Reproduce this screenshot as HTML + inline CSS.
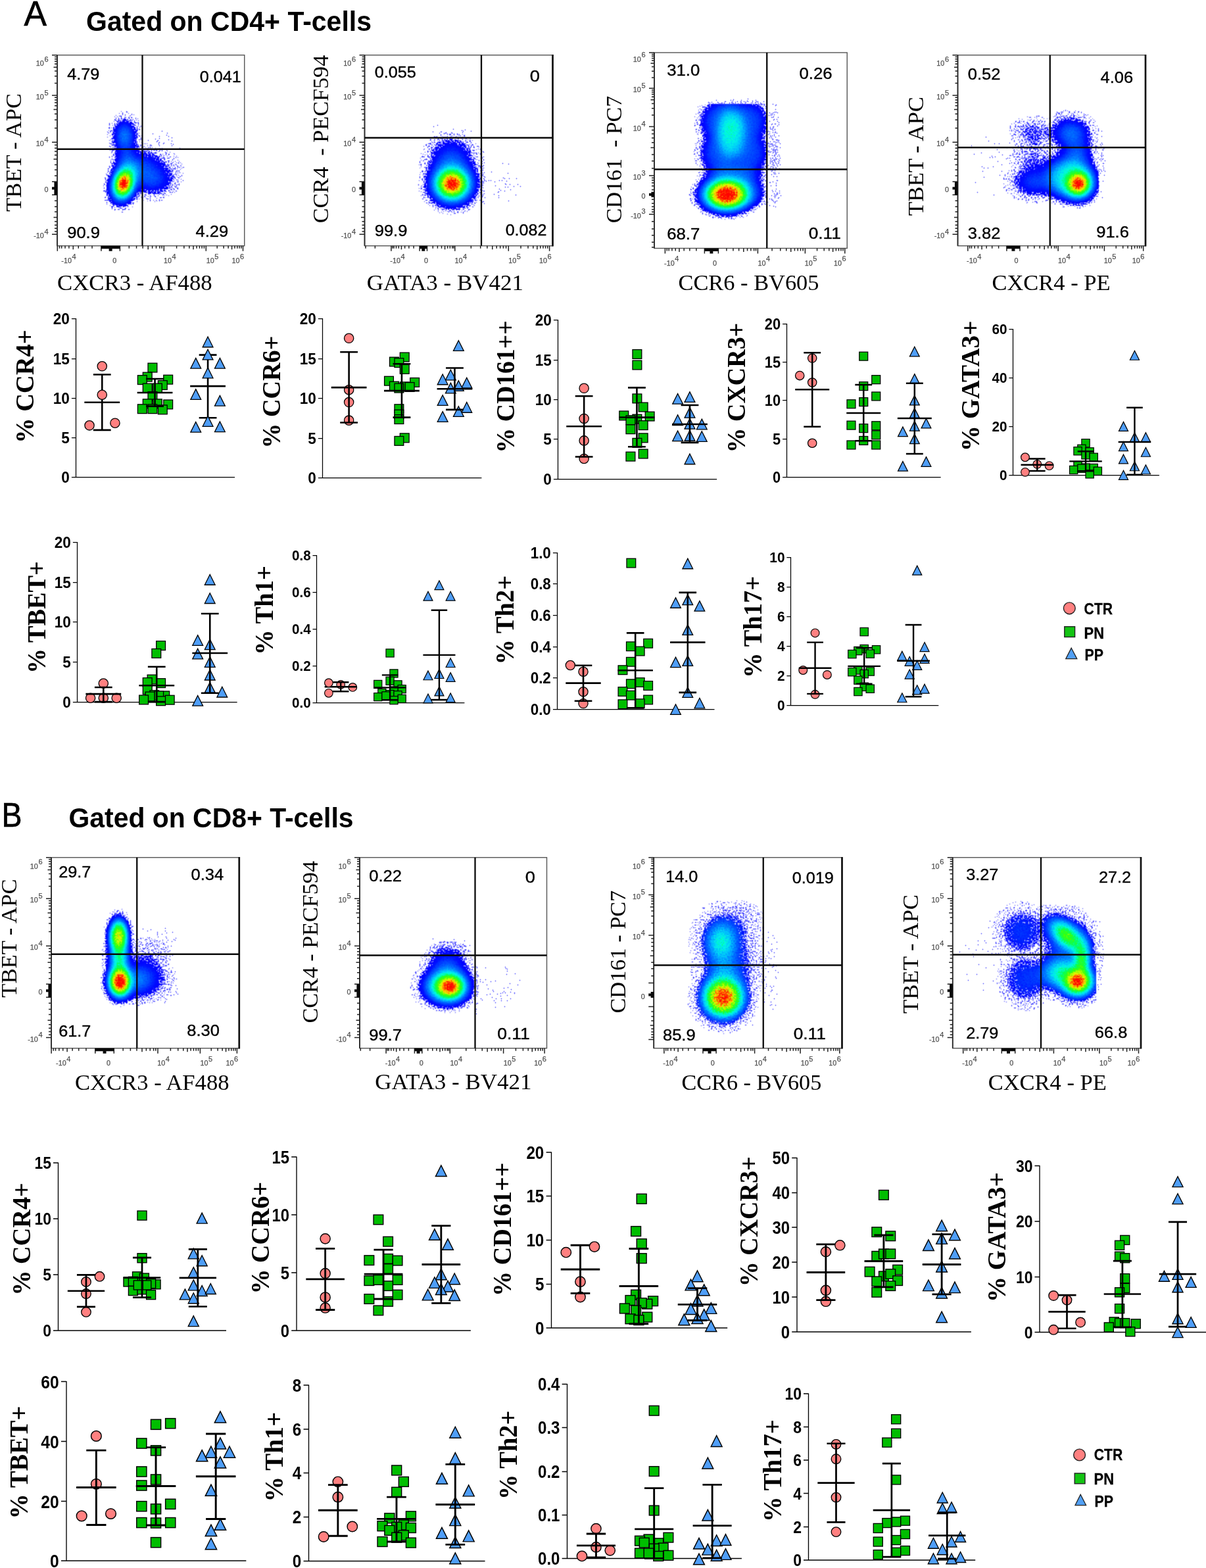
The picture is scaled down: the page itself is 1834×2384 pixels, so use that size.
<!DOCTYPE html>
<html lang="en"><head><meta charset="utf-8"><title>Gated on CD4+ and CD8+ T-cells</title>
<style>html,body{margin:0;padding:0;background:#fff}body{width:1834px;height:2384px;overflow:hidden}svg{display:block}.q{font-family:"Liberation Sans", sans-serif;fill:#000;stroke:#000;stroke-width:.35px}.tk{font-family:"Liberation Sans", sans-serif;fill:#505050;stroke:#505050;stroke-width:.25px}.ax{font-family:"Liberation Serif", serif;fill:#000}.tl{font-family:"Liberation Sans", sans-serif;font-weight:700;fill:#000}.yl{font-family:"Liberation Serif", serif;font-weight:700;fill:#000}.lg{font-family:"Liberation Sans", sans-serif;font-weight:700;fill:#000;stroke:#000;stroke-width:.3px}.ti{font-family:"Liberation Sans", sans-serif;font-weight:700;fill:#000}.pl{font-family:"Liberation Sans", sans-serif;fill:#000;stroke:#000;stroke-width:.7px}</style></head><body>
<svg width="1834" height="2384" viewBox="0 0 1834 2384">
<rect width="1834" height="2384" fill="#fff"/>
<defs>
<radialGradient id="gg2"><stop offset="0" stop-opacity="1.0000"/><stop offset="0.06" stop-opacity="0.9760"/><stop offset="0.12" stop-opacity="0.9075"/><stop offset="0.19" stop-opacity="0.8037"/><stop offset="0.25" stop-opacity="0.6781"/><stop offset="0.31" stop-opacity="0.5450"/><stop offset="0.38" stop-opacity="0.4173"/><stop offset="0.44" stop-opacity="0.3043"/><stop offset="0.5" stop-opacity="0.2115"/><stop offset="0.56" stop-opacity="0.1400"/><stop offset="0.62" stop-opacity="0.0882"/><stop offset="0.69" stop-opacity="0.0530"/><stop offset="0.75" stop-opacity="0.0303"/><stop offset="0.81" stop-opacity="0.0165"/><stop offset="0.88" stop-opacity="0.0086"/><stop offset="0.94" stop-opacity="0.0042"/><stop offset="1" stop-opacity="0.0000"/></radialGradient>
<radialGradient id="gg2_3"><stop offset="0" stop-opacity="1.0000"/><stop offset="0.06" stop-opacity="0.9895"/><stop offset="0.12" stop-opacity="0.9493"/><stop offset="0.19" stop-opacity="0.8761"/><stop offset="0.25" stop-opacity="0.7739"/><stop offset="0.31" stop-opacity="0.6517"/><stop offset="0.38" stop-opacity="0.5214"/><stop offset="0.44" stop-opacity="0.3952"/><stop offset="0.5" stop-opacity="0.2831"/><stop offset="0.56" stop-opacity="0.1911"/><stop offset="0.62" stop-opacity="0.1214"/><stop offset="0.69" stop-opacity="0.0724"/><stop offset="0.75" stop-opacity="0.0405"/><stop offset="0.81" stop-opacity="0.0212"/><stop offset="0.88" stop-opacity="0.0103"/><stop offset="0.94" stop-opacity="0.0047"/><stop offset="1" stop-opacity="0.0000"/></radialGradient>
<radialGradient id="gg2_5"><stop offset="0" stop-opacity="1.0000"/><stop offset="0.06" stop-opacity="0.9939"/><stop offset="0.12" stop-opacity="0.9662"/><stop offset="0.19" stop-opacity="0.9097"/><stop offset="0.25" stop-opacity="0.8235"/><stop offset="0.31" stop-opacity="0.7123"/><stop offset="0.38" stop-opacity="0.5855"/><stop offset="0.44" stop-opacity="0.4553"/><stop offset="0.5" stop-opacity="0.3333"/><stop offset="0.56" stop-opacity="0.2288"/><stop offset="0.62" stop-opacity="0.1467"/><stop offset="0.69" stop-opacity="0.0875"/><stop offset="0.75" stop-opacity="0.0484"/><stop offset="0.81" stop-opacity="0.0248"/><stop offset="0.88" stop-opacity="0.0117"/><stop offset="0.94" stop-opacity="0.0050"/><stop offset="1" stop-opacity="0.0000"/></radialGradient>
<radialGradient id="gg2_6"><stop offset="0" stop-opacity="1.0000"/><stop offset="0.06" stop-opacity="0.9954"/><stop offset="0.12" stop-opacity="0.9725"/><stop offset="0.19" stop-opacity="0.9231"/><stop offset="0.25" stop-opacity="0.8444"/><stop offset="0.31" stop-opacity="0.7393"/><stop offset="0.38" stop-opacity="0.6156"/><stop offset="0.44" stop-opacity="0.4846"/><stop offset="0.5" stop-opacity="0.3588"/><stop offset="0.56" stop-opacity="0.2485"/><stop offset="0.62" stop-opacity="0.1602"/><stop offset="0.69" stop-opacity="0.0957"/><stop offset="0.75" stop-opacity="0.0528"/><stop offset="0.81" stop-opacity="0.0267"/><stop offset="0.88" stop-opacity="0.0124"/><stop offset="0.94" stop-opacity="0.0052"/><stop offset="1" stop-opacity="0.0000"/></radialGradient>
<radialGradient id="gg3"><stop offset="0" stop-opacity="1.0000"/><stop offset="0.06" stop-opacity="0.9985"/><stop offset="0.12" stop-opacity="0.9879"/><stop offset="0.19" stop-opacity="0.9599"/><stop offset="0.25" stop-opacity="0.9075"/><stop offset="0.31" stop-opacity="0.8272"/><stop offset="0.38" stop-opacity="0.7205"/><stop offset="0.44" stop-opacity="0.5943"/><stop offset="0.5" stop-opacity="0.4598"/><stop offset="0.56" stop-opacity="0.3308"/><stop offset="0.62" stop-opacity="0.2193"/><stop offset="0.69" stop-opacity="0.1327"/><stop offset="0.75" stop-opacity="0.0727"/><stop offset="0.81" stop-opacity="0.0357"/><stop offset="0.88" stop-opacity="0.0156"/><stop offset="0.94" stop-opacity="0.0060"/><stop offset="1" stop-opacity="0.0000"/></radialGradient>
<filter id="flFA1" filterUnits="userSpaceOnUse" x="87" y="83.75" width="284.75" height="290" color-interpolation-filters="sRGB"><feTurbulence type="fractalNoise" baseFrequency="0.5" numOctaves="1" seed="3" result="tn"/><feColorMatrix in="tn" type="matrix" values="0 0 0 0 0  0 0 0 0 0  0 0 0 0 0  -2.78 0 0 0 1.89" result="nz"/><feColorMatrix in="tn" type="matrix" values="0 0 0 0 0  0 0 0 0 0  0 0 0 0 0  0 1 0 0 0" result="nz2"/><feComposite in="SourceGraphic" in2="nz" operator="arithmetic" k1="0" k2="14" k3="0.5" k4="0" result="m0"/><feColorMatrix in="m0" type="matrix" values="0 0 0 0 0  0 0 0 0 0  0 0 0 0 0  0 0 0 200 -102" result="mask"/><feComposite in="SourceGraphic" in2="nz2" operator="arithmetic" k1="0.7" k2="0.65" k3="0" k4="0" result="dd"/><feColorMatrix in="dd" type="matrix" values="0 0 0 1 0  0 0 0 1 0  0 0 0 1 0  0 0 0 0 1" result="den"/><feComponentTransfer in="den" result="col"><feFuncR type="table" tableValues="0.000 0.000 0.000 0.000 0.000 0.000 0.000 0.000 0.000 0.000 0.000 0.000 0.000 0.000 0.000 0.000 0.000 0.042 0.084 0.126 0.168 0.210 0.281 0.395 0.510 0.624 0.739 0.825 0.892 0.960 1.000 1.000 1.000 1.000 1.000 1.000 1.000 1.000 1.000 1.000 1.000"/><feFuncG type="table" tableValues="0.000 0.000 0.059 0.206 0.314 0.412 0.510 0.608 0.706 0.784 0.850 0.915 0.980 0.985 0.990 0.995 1.000 1.000 1.000 1.000 1.000 1.000 1.000 1.000 1.000 1.000 1.000 0.982 0.951 0.920 0.853 0.730 0.608 0.485 0.363 0.240 0.118 0.088 0.059 0.029 0.000"/><feFuncB type="table" tableValues="1.000 1.000 1.000 1.000 1.000 1.000 1.000 1.000 1.000 0.984 0.956 0.929 0.902 0.775 0.647 0.520 0.392 0.322 0.252 0.182 0.112 0.042 0.000 0.000 0.000 0.000 0.000 0.000 0.000 0.000 0.000 0.000 0.000 0.000 0.000 0.000 0.000 0.000 0.000 0.000 0.000"/></feComponentTransfer><feComposite in="col" in2="mask" operator="in"/><feConvolveMatrix order="3" kernelMatrix="0.05 0.12 0.05 0.12 0.32 0.12 0.05 0.12 0.05" divisor="1" edgeMode="none" preserveAlpha="false"/></filter>
<filter id="flFA2" filterUnits="userSpaceOnUse" x="554.5" y="83.75" width="286" height="290" color-interpolation-filters="sRGB"><feTurbulence type="fractalNoise" baseFrequency="0.5" numOctaves="1" seed="5" result="tn"/><feColorMatrix in="tn" type="matrix" values="0 0 0 0 0  0 0 0 0 0  0 0 0 0 0  -2.78 0 0 0 1.89" result="nz"/><feColorMatrix in="tn" type="matrix" values="0 0 0 0 0  0 0 0 0 0  0 0 0 0 0  0 1 0 0 0" result="nz2"/><feComposite in="SourceGraphic" in2="nz" operator="arithmetic" k1="0" k2="14" k3="0.5" k4="0" result="m0"/><feColorMatrix in="m0" type="matrix" values="0 0 0 0 0  0 0 0 0 0  0 0 0 0 0  0 0 0 200 -102" result="mask"/><feComposite in="SourceGraphic" in2="nz2" operator="arithmetic" k1="0.7" k2="0.65" k3="0" k4="0" result="dd"/><feColorMatrix in="dd" type="matrix" values="0 0 0 1 0  0 0 0 1 0  0 0 0 1 0  0 0 0 0 1" result="den"/><feComponentTransfer in="den" result="col"><feFuncR type="table" tableValues="0.000 0.000 0.000 0.000 0.000 0.000 0.000 0.000 0.000 0.000 0.000 0.000 0.000 0.000 0.000 0.000 0.000 0.042 0.084 0.126 0.168 0.210 0.281 0.395 0.510 0.624 0.739 0.825 0.892 0.960 1.000 1.000 1.000 1.000 1.000 1.000 1.000 1.000 1.000 1.000 1.000"/><feFuncG type="table" tableValues="0.000 0.000 0.059 0.206 0.314 0.412 0.510 0.608 0.706 0.784 0.850 0.915 0.980 0.985 0.990 0.995 1.000 1.000 1.000 1.000 1.000 1.000 1.000 1.000 1.000 1.000 1.000 0.982 0.951 0.920 0.853 0.730 0.608 0.485 0.363 0.240 0.118 0.088 0.059 0.029 0.000"/><feFuncB type="table" tableValues="1.000 1.000 1.000 1.000 1.000 1.000 1.000 1.000 1.000 0.984 0.956 0.929 0.902 0.775 0.647 0.520 0.392 0.322 0.252 0.182 0.112 0.042 0.000 0.000 0.000 0.000 0.000 0.000 0.000 0.000 0.000 0.000 0.000 0.000 0.000 0.000 0.000 0.000 0.000 0.000 0.000"/></feComponentTransfer><feComposite in="col" in2="mask" operator="in"/><feConvolveMatrix order="3" kernelMatrix="0.05 0.12 0.05 0.12 0.32 0.12 0.05 0.12 0.05" divisor="1" edgeMode="none" preserveAlpha="false"/></filter>
<filter id="flFA3" filterUnits="userSpaceOnUse" x="995" y="80" width="293.25" height="297.5" color-interpolation-filters="sRGB"><feTurbulence type="fractalNoise" baseFrequency="0.5" numOctaves="1" seed="7" result="tn"/><feColorMatrix in="tn" type="matrix" values="0 0 0 0 0  0 0 0 0 0  0 0 0 0 0  -2.78 0 0 0 1.89" result="nz"/><feColorMatrix in="tn" type="matrix" values="0 0 0 0 0  0 0 0 0 0  0 0 0 0 0  0 1 0 0 0" result="nz2"/><feComposite in="SourceGraphic" in2="nz" operator="arithmetic" k1="0" k2="14" k3="0.5" k4="0" result="m0"/><feColorMatrix in="m0" type="matrix" values="0 0 0 0 0  0 0 0 0 0  0 0 0 0 0  0 0 0 200 -102" result="mask"/><feComposite in="SourceGraphic" in2="nz2" operator="arithmetic" k1="0.7" k2="0.65" k3="0" k4="0" result="dd"/><feColorMatrix in="dd" type="matrix" values="0 0 0 1 0  0 0 0 1 0  0 0 0 1 0  0 0 0 0 1" result="den"/><feComponentTransfer in="den" result="col"><feFuncR type="table" tableValues="0.000 0.000 0.000 0.000 0.000 0.000 0.000 0.000 0.000 0.000 0.000 0.000 0.000 0.000 0.000 0.000 0.000 0.042 0.084 0.126 0.168 0.210 0.281 0.395 0.510 0.624 0.739 0.825 0.892 0.960 1.000 1.000 1.000 1.000 1.000 1.000 1.000 1.000 1.000 1.000 1.000"/><feFuncG type="table" tableValues="0.000 0.000 0.059 0.206 0.314 0.412 0.510 0.608 0.706 0.784 0.850 0.915 0.980 0.985 0.990 0.995 1.000 1.000 1.000 1.000 1.000 1.000 1.000 1.000 1.000 1.000 1.000 0.982 0.951 0.920 0.853 0.730 0.608 0.485 0.363 0.240 0.118 0.088 0.059 0.029 0.000"/><feFuncB type="table" tableValues="1.000 1.000 1.000 1.000 1.000 1.000 1.000 1.000 1.000 0.984 0.956 0.929 0.902 0.775 0.647 0.520 0.392 0.322 0.252 0.182 0.112 0.042 0.000 0.000 0.000 0.000 0.000 0.000 0.000 0.000 0.000 0.000 0.000 0.000 0.000 0.000 0.000 0.000 0.000 0.000 0.000"/></feComponentTransfer><feComposite in="col" in2="mask" operator="in"/><feConvolveMatrix order="3" kernelMatrix="0.05 0.12 0.05 0.12 0.32 0.12 0.05 0.12 0.05" divisor="1" edgeMode="none" preserveAlpha="false"/></filter>
<filter id="flFA4" filterUnits="userSpaceOnUse" x="1456.5" y="83.75" width="285.5" height="290" color-interpolation-filters="sRGB"><feTurbulence type="fractalNoise" baseFrequency="0.5" numOctaves="1" seed="9" result="tn"/><feColorMatrix in="tn" type="matrix" values="0 0 0 0 0  0 0 0 0 0  0 0 0 0 0  -2.78 0 0 0 1.89" result="nz"/><feColorMatrix in="tn" type="matrix" values="0 0 0 0 0  0 0 0 0 0  0 0 0 0 0  0 1 0 0 0" result="nz2"/><feComposite in="SourceGraphic" in2="nz" operator="arithmetic" k1="0" k2="14" k3="0.5" k4="0" result="m0"/><feColorMatrix in="m0" type="matrix" values="0 0 0 0 0  0 0 0 0 0  0 0 0 0 0  0 0 0 200 -102" result="mask"/><feComposite in="SourceGraphic" in2="nz2" operator="arithmetic" k1="0.7" k2="0.65" k3="0" k4="0" result="dd"/><feColorMatrix in="dd" type="matrix" values="0 0 0 1 0  0 0 0 1 0  0 0 0 1 0  0 0 0 0 1" result="den"/><feComponentTransfer in="den" result="col"><feFuncR type="table" tableValues="0.000 0.000 0.000 0.000 0.000 0.000 0.000 0.000 0.000 0.000 0.000 0.000 0.000 0.000 0.000 0.000 0.000 0.042 0.084 0.126 0.168 0.210 0.281 0.395 0.510 0.624 0.739 0.825 0.892 0.960 1.000 1.000 1.000 1.000 1.000 1.000 1.000 1.000 1.000 1.000 1.000"/><feFuncG type="table" tableValues="0.000 0.000 0.059 0.206 0.314 0.412 0.510 0.608 0.706 0.784 0.850 0.915 0.980 0.985 0.990 0.995 1.000 1.000 1.000 1.000 1.000 1.000 1.000 1.000 1.000 1.000 1.000 0.982 0.951 0.920 0.853 0.730 0.608 0.485 0.363 0.240 0.118 0.088 0.059 0.029 0.000"/><feFuncB type="table" tableValues="1.000 1.000 1.000 1.000 1.000 1.000 1.000 1.000 1.000 0.984 0.956 0.929 0.902 0.775 0.647 0.520 0.392 0.322 0.252 0.182 0.112 0.042 0.000 0.000 0.000 0.000 0.000 0.000 0.000 0.000 0.000 0.000 0.000 0.000 0.000 0.000 0.000 0.000 0.000 0.000 0.000"/></feComponentTransfer><feComposite in="col" in2="mask" operator="in"/><feConvolveMatrix order="3" kernelMatrix="0.05 0.12 0.05 0.12 0.32 0.12 0.05 0.12 0.05" divisor="1" edgeMode="none" preserveAlpha="false"/></filter>
<filter id="flFB1" filterUnits="userSpaceOnUse" x="78" y="1303.75" width="285.75" height="290" color-interpolation-filters="sRGB"><feTurbulence type="fractalNoise" baseFrequency="0.5" numOctaves="1" seed="11" result="tn"/><feColorMatrix in="tn" type="matrix" values="0 0 0 0 0  0 0 0 0 0  0 0 0 0 0  -2.78 0 0 0 1.89" result="nz"/><feColorMatrix in="tn" type="matrix" values="0 0 0 0 0  0 0 0 0 0  0 0 0 0 0  0 1 0 0 0" result="nz2"/><feComposite in="SourceGraphic" in2="nz" operator="arithmetic" k1="0" k2="14" k3="0.5" k4="0" result="m0"/><feColorMatrix in="m0" type="matrix" values="0 0 0 0 0  0 0 0 0 0  0 0 0 0 0  0 0 0 200 -102" result="mask"/><feComposite in="SourceGraphic" in2="nz2" operator="arithmetic" k1="0.7" k2="0.65" k3="0" k4="0" result="dd"/><feColorMatrix in="dd" type="matrix" values="0 0 0 1 0  0 0 0 1 0  0 0 0 1 0  0 0 0 0 1" result="den"/><feComponentTransfer in="den" result="col"><feFuncR type="table" tableValues="0.000 0.000 0.000 0.000 0.000 0.000 0.000 0.000 0.000 0.000 0.000 0.000 0.000 0.000 0.000 0.000 0.000 0.042 0.084 0.126 0.168 0.210 0.281 0.395 0.510 0.624 0.739 0.825 0.892 0.960 1.000 1.000 1.000 1.000 1.000 1.000 1.000 1.000 1.000 1.000 1.000"/><feFuncG type="table" tableValues="0.000 0.000 0.059 0.206 0.314 0.412 0.510 0.608 0.706 0.784 0.850 0.915 0.980 0.985 0.990 0.995 1.000 1.000 1.000 1.000 1.000 1.000 1.000 1.000 1.000 1.000 1.000 0.982 0.951 0.920 0.853 0.730 0.608 0.485 0.363 0.240 0.118 0.088 0.059 0.029 0.000"/><feFuncB type="table" tableValues="1.000 1.000 1.000 1.000 1.000 1.000 1.000 1.000 1.000 0.984 0.956 0.929 0.902 0.775 0.647 0.520 0.392 0.322 0.252 0.182 0.112 0.042 0.000 0.000 0.000 0.000 0.000 0.000 0.000 0.000 0.000 0.000 0.000 0.000 0.000 0.000 0.000 0.000 0.000 0.000 0.000"/></feComponentTransfer><feComposite in="col" in2="mask" operator="in"/><feConvolveMatrix order="3" kernelMatrix="0.05 0.12 0.05 0.12 0.32 0.12 0.05 0.12 0.05" divisor="1" edgeMode="none" preserveAlpha="false"/></filter>
<filter id="flFB2" filterUnits="userSpaceOnUse" x="547" y="1303.75" width="284.5" height="290" color-interpolation-filters="sRGB"><feTurbulence type="fractalNoise" baseFrequency="0.5" numOctaves="1" seed="13" result="tn"/><feColorMatrix in="tn" type="matrix" values="0 0 0 0 0  0 0 0 0 0  0 0 0 0 0  -2.78 0 0 0 1.89" result="nz"/><feColorMatrix in="tn" type="matrix" values="0 0 0 0 0  0 0 0 0 0  0 0 0 0 0  0 1 0 0 0" result="nz2"/><feComposite in="SourceGraphic" in2="nz" operator="arithmetic" k1="0" k2="14" k3="0.5" k4="0" result="m0"/><feColorMatrix in="m0" type="matrix" values="0 0 0 0 0  0 0 0 0 0  0 0 0 0 0  0 0 0 200 -102" result="mask"/><feComposite in="SourceGraphic" in2="nz2" operator="arithmetic" k1="0.7" k2="0.65" k3="0" k4="0" result="dd"/><feColorMatrix in="dd" type="matrix" values="0 0 0 1 0  0 0 0 1 0  0 0 0 1 0  0 0 0 0 1" result="den"/><feComponentTransfer in="den" result="col"><feFuncR type="table" tableValues="0.000 0.000 0.000 0.000 0.000 0.000 0.000 0.000 0.000 0.000 0.000 0.000 0.000 0.000 0.000 0.000 0.000 0.042 0.084 0.126 0.168 0.210 0.281 0.395 0.510 0.624 0.739 0.825 0.892 0.960 1.000 1.000 1.000 1.000 1.000 1.000 1.000 1.000 1.000 1.000 1.000"/><feFuncG type="table" tableValues="0.000 0.000 0.059 0.206 0.314 0.412 0.510 0.608 0.706 0.784 0.850 0.915 0.980 0.985 0.990 0.995 1.000 1.000 1.000 1.000 1.000 1.000 1.000 1.000 1.000 1.000 1.000 0.982 0.951 0.920 0.853 0.730 0.608 0.485 0.363 0.240 0.118 0.088 0.059 0.029 0.000"/><feFuncB type="table" tableValues="1.000 1.000 1.000 1.000 1.000 1.000 1.000 1.000 1.000 0.984 0.956 0.929 0.902 0.775 0.647 0.520 0.392 0.322 0.252 0.182 0.112 0.042 0.000 0.000 0.000 0.000 0.000 0.000 0.000 0.000 0.000 0.000 0.000 0.000 0.000 0.000 0.000 0.000 0.000 0.000 0.000"/></feComponentTransfer><feComposite in="col" in2="mask" operator="in"/><feConvolveMatrix order="3" kernelMatrix="0.05 0.12 0.05 0.12 0.32 0.12 0.05 0.12 0.05" divisor="1" edgeMode="none" preserveAlpha="false"/></filter>
<filter id="flFB3" filterUnits="userSpaceOnUse" x="994.25" y="1303.75" width="286.25" height="290" color-interpolation-filters="sRGB"><feTurbulence type="fractalNoise" baseFrequency="0.5" numOctaves="1" seed="15" result="tn"/><feColorMatrix in="tn" type="matrix" values="0 0 0 0 0  0 0 0 0 0  0 0 0 0 0  -2.78 0 0 0 1.89" result="nz"/><feColorMatrix in="tn" type="matrix" values="0 0 0 0 0  0 0 0 0 0  0 0 0 0 0  0 1 0 0 0" result="nz2"/><feComposite in="SourceGraphic" in2="nz" operator="arithmetic" k1="0" k2="6" k3="0.5" k4="0" result="m0"/><feColorMatrix in="m0" type="matrix" values="0 0 0 0 0  0 0 0 0 0  0 0 0 0 0  0 0 0 200 -102" result="mask"/><feComposite in="SourceGraphic" in2="nz2" operator="arithmetic" k1="1.1" k2="0.45" k3="0" k4="0" result="dd"/><feColorMatrix in="dd" type="matrix" values="0 0 0 1 0  0 0 0 1 0  0 0 0 1 0  0 0 0 0 1" result="den"/><feComponentTransfer in="den" result="col"><feFuncR type="table" tableValues="0.000 0.000 0.000 0.000 0.000 0.000 0.000 0.000 0.000 0.000 0.000 0.000 0.000 0.000 0.000 0.000 0.000 0.042 0.084 0.126 0.168 0.210 0.281 0.395 0.510 0.624 0.739 0.825 0.892 0.960 1.000 1.000 1.000 1.000 1.000 1.000 1.000 1.000 1.000 1.000 1.000"/><feFuncG type="table" tableValues="0.000 0.000 0.059 0.206 0.314 0.412 0.510 0.608 0.706 0.784 0.850 0.915 0.980 0.985 0.990 0.995 1.000 1.000 1.000 1.000 1.000 1.000 1.000 1.000 1.000 1.000 1.000 0.982 0.951 0.920 0.853 0.730 0.608 0.485 0.363 0.240 0.118 0.088 0.059 0.029 0.000"/><feFuncB type="table" tableValues="1.000 1.000 1.000 1.000 1.000 1.000 1.000 1.000 1.000 0.984 0.956 0.929 0.902 0.775 0.647 0.520 0.392 0.322 0.252 0.182 0.112 0.042 0.000 0.000 0.000 0.000 0.000 0.000 0.000 0.000 0.000 0.000 0.000 0.000 0.000 0.000 0.000 0.000 0.000 0.000 0.000"/></feComponentTransfer><feComposite in="col" in2="mask" operator="in"/><feConvolveMatrix order="3" kernelMatrix="0.05 0.12 0.05 0.12 0.32 0.12 0.05 0.12 0.05" divisor="1" edgeMode="none" preserveAlpha="false"/></filter>
<filter id="flFB4" filterUnits="userSpaceOnUse" x="1448.75" y="1303.75" width="286.25" height="290" color-interpolation-filters="sRGB"><feTurbulence type="fractalNoise" baseFrequency="0.5" numOctaves="1" seed="17" result="tn"/><feColorMatrix in="tn" type="matrix" values="0 0 0 0 0  0 0 0 0 0  0 0 0 0 0  -2.78 0 0 0 1.89" result="nz"/><feColorMatrix in="tn" type="matrix" values="0 0 0 0 0  0 0 0 0 0  0 0 0 0 0  0 1 0 0 0" result="nz2"/><feComposite in="SourceGraphic" in2="nz" operator="arithmetic" k1="0" k2="8" k3="0.5" k4="0" result="m0"/><feColorMatrix in="m0" type="matrix" values="0 0 0 0 0  0 0 0 0 0  0 0 0 0 0  0 0 0 200 -102" result="mask"/><feComposite in="SourceGraphic" in2="nz2" operator="arithmetic" k1="0.9" k2="0.55" k3="0" k4="0" result="dd"/><feColorMatrix in="dd" type="matrix" values="0 0 0 1 0  0 0 0 1 0  0 0 0 1 0  0 0 0 0 1" result="den"/><feComponentTransfer in="den" result="col"><feFuncR type="table" tableValues="0.000 0.000 0.000 0.000 0.000 0.000 0.000 0.000 0.000 0.000 0.000 0.000 0.000 0.000 0.000 0.000 0.000 0.042 0.084 0.126 0.168 0.210 0.281 0.395 0.510 0.624 0.739 0.825 0.892 0.960 1.000 1.000 1.000 1.000 1.000 1.000 1.000 1.000 1.000 1.000 1.000"/><feFuncG type="table" tableValues="0.000 0.000 0.059 0.206 0.314 0.412 0.510 0.608 0.706 0.784 0.850 0.915 0.980 0.985 0.990 0.995 1.000 1.000 1.000 1.000 1.000 1.000 1.000 1.000 1.000 1.000 1.000 0.982 0.951 0.920 0.853 0.730 0.608 0.485 0.363 0.240 0.118 0.088 0.059 0.029 0.000"/><feFuncB type="table" tableValues="1.000 1.000 1.000 1.000 1.000 1.000 1.000 1.000 1.000 0.984 0.956 0.929 0.902 0.775 0.647 0.520 0.392 0.322 0.252 0.182 0.112 0.042 0.000 0.000 0.000 0.000 0.000 0.000 0.000 0.000 0.000 0.000 0.000 0.000 0.000 0.000 0.000 0.000 0.000 0.000 0.000"/></feComponentTransfer><feComposite in="col" in2="mask" operator="in"/><feConvolveMatrix order="3" kernelMatrix="0.05 0.12 0.05 0.12 0.32 0.12 0.05 0.12 0.05" divisor="1" edgeMode="none" preserveAlpha="false"/></filter>
</defs>
<text class="pl" font-size="53" x="36.5" y="39.3" textLength="34.5" lengthAdjust="spacingAndGlyphs">A</text>
<text class="ti" font-size="42" x="131" y="46.6" textLength="434" lengthAdjust="spacingAndGlyphs">Gated on CD4+ T-cells</text>
<text class="pl" font-size="51.5" x="2.5" y="1256.8" textLength="31" lengthAdjust="spacingAndGlyphs">B</text>
<text class="ti" font-size="42" x="104.5" y="1258" textLength="433" lengthAdjust="spacingAndGlyphs">Gated on CD8+ T-cells</text>
<g id="FA1">
<g filter="url(#flFA1)">
<rect x="87" y="83.75" width="284.75" height="290" fill="none"/>
<ellipse cx="188" cy="279" rx="31.73" ry="45.83" fill="url(#gg2)" opacity="1.0" transform="rotate(14 188 279)"/>
<ellipse cx="200" cy="260" rx="35.26" ry="39.66" fill="url(#gg2)" opacity="0.12"/>
<ellipse cx="189.5" cy="206.25" rx="33.49" ry="45.83" fill="url(#gg2)" opacity="0.13"/>
<ellipse cx="231.25" cy="272.5" rx="57.29" ry="44.07" fill="url(#gg2)" opacity="0.08"/>
<ellipse cx="220" cy="252.5" rx="44.07" ry="48.48" fill="url(#gg2)" opacity="0.06"/>
<ellipse cx="192.5" cy="242.5" rx="35.26" ry="52.88" fill="url(#gg2)" opacity="0.08"/>
<ellipse cx="240" cy="260" rx="70.51" ry="61.7" fill="url(#gg2)" opacity="0.015"/>
</g>
<path d="M246.5 244.5h0M231.5 239.5h0M241.5 217.5h0M273.5 225.5h0M244.5 235.5h0M261.5 221.5h0M253.5 205.5h0M239.5 214.5h0M220.5 218.5h0M242.5 216.5h0M246.5 199.5h0M243.5 226.5h0M256.5 207.5h0M223.5 241.5h0M249.5 217.5h0M251.5 231.5h0M260.5 218.5h0M236.5 211.5h0M230.5 221.5h0M233.5 241.5h0M240.5 213.5h0M261.5 209.5h0M242.5 210.5h0M254.5 202.5h0M243.5 228.5h0M267.5 239.5h0M237.5 227.5h0M238.5 251.5h0M248.5 218.5h0M241.5 219.5h0M242.5 207.5h0M242.5 229.5h0M241.5 219.5h0M249.5 239.5h0M238.5 215.5h0M256.5 212.5h0M227.5 227.5h0M232.5 203.5h0M225.5 213.5h0M261.5 214.5h0M223.5 234.5h0M245.5 237.5h0M263.5 219.5h0M242.5 221.5h0M227.5 234.5h0M278.5 274.5h0M262.5 268.5h0M257.5 261.5h0M260.5 260.5h0M260.5 250.5h0M268.5 273.5h0M264.5 287.5h0M257.5 265.5h0M259.5 281.5h0M255.5 286.5h0M261.5 285.5h0M265.5 269.5h0M250.5 263.5h0M262.5 281.5h0M267.5 262.5h0M269.5 286.5h0M263.5 266.5h0M261.5 283.5h0M270.5 259.5h0M268.5 265.5h0M257.5 289.5h0M273.5 262.5h0M265.5 279.5h0M258.5 270.5h0M271.5 247.5h0M268.5 282.5h0M270.5 254.5h0M268.5 260.5h0M270.5 280.5h0M267.5 261.5h0" stroke="#3030ff" stroke-width="1.9" stroke-linecap="round" fill="none" opacity=".6"/>
<rect x="87" y="83.75" width="284.75" height="290" fill="none" stroke="#555" stroke-width="1.4"/>
<path d="M87 83.75V373.75" stroke="#2a2a2a" stroke-width="1.8" fill="none"/>
<path d="M216.5 83.75V373.75M87 226.75H371.75" stroke="#0a0a0a" stroke-width="2.3" fill="none"/>
<path d="M79 356.25H87M79 296.25H87M79 276.25H87M79 216.25H87M79 145H87M79 83.75H87M83 267.37H87M83 258.25H87M83 250.45H87M81.5 242.05H87M83 235.69H87M83 230.17H87M83 225.13H87M83 220.45H87M83 305.13H87M83 314.25H87M83 322.05H87M81.5 330.45H87M83 336.81H87M83 342.33H87M83 347.37H87M83 352.05H87M83 194.8H87M83 182.26H87M83 173.35H87M81.5 166.45H87M83 160.81H87M83 156.04H87M83 151.9H87M83 148.26H87M83 126.56H87M83 115.78H87M83 108.12H87M81.5 102.19H87M83 97.34H87M83 93.24H87M83 89.69H87M83 86.55H87M87.3 373.75V381.75M153.9 373.75V381.75M182.4 373.75V381.75M249.3 373.75V381.75M313.3 373.75V381.75M369.5 373.75V381.75M196.32 373.75V377.75M207.55 373.75V377.75M217.19 373.75V377.75M225.22 373.75V379.25M231.64 373.75V377.75M237.53 373.75V377.75M242.88 373.75V377.75M246.09 373.75V377.75M140.05 373.75V377.75M128.86 373.75V377.75M119.27 373.75V377.75M111.28 373.75V379.25M104.88 373.75V377.75M99.02 373.75V377.75M93.69 373.75V377.75M90.5 373.75V377.75M268.57 373.75V377.75M279.84 373.75V377.75M287.83 373.75V377.75M294.03 373.75V379.25M299.1 373.75V377.75M303.39 373.75V377.75M307.1 373.75V377.75M310.37 373.75V377.75M330.22 373.75V377.75M340.11 373.75V377.75M347.14 373.75V377.75M352.58 373.75V379.25M357.03 373.75V377.75M360.79 373.75V377.75M364.05 373.75V377.75M366.93 373.75V377.75" stroke="#222" stroke-width="1.5" fill="none"/>
<path d="M82.4 276.25H87V296.25H82.4ZM79 284.25h8v4h-8z" fill="#0a0a0a"/>
<path d="M153.9 373.75H182.4V378.35H153.9ZM165.65 373.75h5v8h-5z" fill="#0a0a0a"/>
<text class="tk" font-size="10.8" x="73.5" y="100.2" text-anchor="end">10<tspan dy="-6.5" dx="0.6" font-size="11">6</tspan></text>
<text class="tk" font-size="10.8" x="73.5" y="151" text-anchor="end">10<tspan dy="-6.5" dx="0.6" font-size="11">5</tspan></text>
<text class="tk" font-size="10.8" x="73.5" y="222.25" text-anchor="end">10<tspan dy="-6.5" dx="0.6" font-size="11">4</tspan></text>
<text class="tk" font-size="10.8" x="73.5" y="292.25" text-anchor="end">0</text>
<text class="tk" font-size="10.8" x="73.5" y="362.25" text-anchor="end">-10<tspan dy="-6.5" dx="0.6" font-size="11">4</tspan></text>
<text class="tk" font-size="10.8" x="104.5" y="400.05" text-anchor="middle">-10<tspan dy="-6.5" dx="0.6" font-size="11">4</tspan></text>
<text class="tk" font-size="10.8" x="174.25" y="400.05" text-anchor="middle">0</text>
<text class="tk" font-size="10.8" x="258.25" y="400.05" text-anchor="middle">10<tspan dy="-6.5" dx="0.6" font-size="11">4</tspan></text>
<text class="tk" font-size="10.8" x="323" y="400.05" text-anchor="middle">10<tspan dy="-6.5" dx="0.6" font-size="11">5</tspan></text>
<text class="tk" font-size="10.8" x="361.75" y="400.05" text-anchor="middle">10<tspan dy="-6.5" dx="0.6" font-size="11">6</tspan></text>
<text class="q" font-size="24" x="102.2" y="120.5" textLength="49.2" lengthAdjust="spacingAndGlyphs">4.79</text>
<text class="q" font-size="24" x="303.7" y="125" textLength="63.2" lengthAdjust="spacingAndGlyphs">0.041</text>
<text class="q" font-size="24" x="102.2" y="361.75" textLength="49.7" lengthAdjust="spacingAndGlyphs">90.9</text>
<text class="q" font-size="24" x="297.45" y="360" textLength="49.7" lengthAdjust="spacingAndGlyphs">4.29</text>
<text class="ax" font-size="34" transform="translate(32 321.75) rotate(-90)" textLength="179.75" lengthAdjust="spacingAndGlyphs">TBET - APC</text>
<text class="ax" font-size="34" x="87" y="441.25" textLength="235.75" lengthAdjust="spacingAndGlyphs">CXCR3 - AF488</text>
</g>
<g id="FA2">
<g filter="url(#flFA2)">
<rect x="554.5" y="83.75" width="286" height="290" fill="none"/>
<clipPath id="cpFA2"><rect x="554.5" y="83.75" width="178" height="290"/></clipPath>
<g clip-path="url(#cpFA2)">
<ellipse cx="687.5" cy="279.5" rx="52.88" ry="49.36" fill="url(#gg2)" opacity="1.0"/>
<ellipse cx="686.25" cy="246.25" rx="61.7" ry="57.29" fill="url(#gg2)" opacity="0.1"/>
<ellipse cx="685" cy="222.5" rx="66.11" ry="35.26" fill="url(#gg2)" opacity="0.012"/>
</g>
</g>
<path d="M747.5 261.5h0M781.5 283.5h0M785.5 271.5h0M770.5 275.5h0M753.5 282.5h0M746.5 274.5h0M775.5 280.5h0M765.5 270.5h0M767.5 271.5h0M759.5 274.5h0M767.5 290.5h0M743.5 274.5h0M774.5 271.5h0M759.5 287.5h0M768.5 284.5h0M758.5 300.5h0M787.5 280.5h0M758.5 291.5h0M772.5 263.5h0M758.5 297.5h0M763.5 274.5h0M768.5 279.5h0M764.5 248.5h0M791.5 283.5h0M751.5 295.5h0M769.5 280.5h0M773.5 305.5h0M757.5 292.5h0M739.5 275.5h0M784.5 296.5h0M773.5 249.5h0M776.5 288.5h0M752.5 276.5h0M761.5 289.5h0M772.5 284.5h0M687.5 202.5h0M704.5 199.5h0M675.5 203.5h0M659.5 192.5h0M668.5 202.5h0M703.5 201.5h0M689.5 196.5h0M665.5 190.5h0M698.5 204.5h0M703.5 211.5h0M680.5 207.5h0M716.5 199.5h0M702.5 198.5h0M658.5 200.5h0M671.5 200.5h0M677.5 202.5h0M707.5 197.5h0M670.5 200.5h0M695.5 203.5h0M666.5 210.5h0M735.5 238.5h0M733.5 239.5h0M733.5 299.5h0M734.5 297.5h0M735.5 238.5h0M733.5 248.5h0M737.5 274.5h0M734.5 306.5h0M731.5 282.5h0M733.5 240.5h0M733.5 298.5h0M734.5 230.5h0M733.5 307.5h0M736.5 247.5h0M732.5 269.5h0M736.5 309.5h0M736.5 262.5h0M733.5 239.5h0M734.5 258.5h0M735.5 243.5h0M734.5 252.5h0M732.5 245.5h0M733.5 245.5h0M736.5 274.5h0M732.5 284.5h0M735.5 306.5h0M734.5 267.5h0M733.5 275.5h0M735.5 276.5h0M734.5 285.5h0M735.5 278.5h0M733.5 277.5h0M733.5 253.5h0M736.5 272.5h0M734.5 295.5h0M737.5 300.5h0M734.5 276.5h0M734.5 265.5h0M733.5 266.5h0M735.5 251.5h0M735.5 242.5h0M734.5 281.5h0M733.5 256.5h0M733.5 259.5h0M735.5 271.5h0M736.5 290.5h0M734.5 264.5h0M733.5 289.5h0M735.5 290.5h0M736.5 268.5h0M733.5 262.5h0M737.5 269.5h0M733.5 282.5h0M737.5 269.5h0M734.5 297.5h0M736.5 294.5h0M733.5 279.5h0M735.5 231.5h0M737.5 274.5h0M735.5 255.5h0" stroke="#3030ff" stroke-width="1.9" stroke-linecap="round" fill="none" opacity=".6"/>
<rect x="554.5" y="83.75" width="286" height="290" fill="none" stroke="#555" stroke-width="1.4"/>
<path d="M554.5 83.75V373.75" stroke="#2a2a2a" stroke-width="1.8" fill="none"/>
<path d="M840.5 83.05V374.45" stroke="#111" stroke-width="2.7" fill="none"/>
<path d="M732 83.75V373.75M554.5 209.5H840.5" stroke="#0a0a0a" stroke-width="2.3" fill="none"/>
<path d="M546.5 356.25H554.5M546.5 296.25H554.5M546.5 276.25H554.5M546.5 216.25H554.5M546.5 145H554.5M546.5 83.75H554.5M550.5 267.37H554.5M550.5 258.25H554.5M550.5 250.45H554.5M549 242.05H554.5M550.5 235.69H554.5M550.5 230.17H554.5M550.5 225.13H554.5M550.5 220.45H554.5M550.5 305.13H554.5M550.5 314.25H554.5M550.5 322.05H554.5M549 330.45H554.5M550.5 336.81H554.5M550.5 342.33H554.5M550.5 347.37H554.5M550.5 352.05H554.5M550.5 194.8H554.5M550.5 182.26H554.5M550.5 173.35H554.5M549 166.45H554.5M550.5 160.81H554.5M550.5 156.04H554.5M550.5 151.9H554.5M550.5 148.26H554.5M550.5 126.56H554.5M550.5 115.78H554.5M550.5 108.12H554.5M549 102.19H554.5M550.5 97.34H554.5M550.5 93.24H554.5M550.5 89.69H554.5M550.5 86.55H554.5M594.9 373.75V381.75M638.1 373.75V381.75M649.5 373.75V381.75M691.8 373.75V381.75M773.3 373.75V381.75M835.6 373.75V381.75M658.3 373.75V377.75M665.4 373.75V377.75M671.5 373.75V377.75M676.57 373.75V379.25M680.63 373.75V377.75M684.36 373.75V377.75M687.74 373.75V377.75M689.77 373.75V377.75M629.11 373.75V377.75M621.86 373.75V377.75M615.64 373.75V377.75M610.45 373.75V379.25M606.3 373.75V377.75M602.5 373.75V377.75M599.05 373.75V377.75M596.97 373.75V377.75M716.33 373.75V377.75M730.69 373.75V377.75M740.87 373.75V377.75M748.77 373.75V379.25M755.22 373.75V377.75M760.68 373.75V377.75M765.4 373.75V377.75M769.57 373.75V377.75M792.05 373.75V377.75M803.02 373.75V377.75M810.81 373.75V377.75M816.85 373.75V379.25M821.78 373.75V377.75M825.95 373.75V377.75M829.56 373.75V377.75M832.75 373.75V377.75M570.37 373.75V377.75M556.01 373.75V377.75" stroke="#222" stroke-width="1.5" fill="none"/>
<path d="M549.9 276.25H554.5V296.25H549.9ZM546.5 284.25h8v4h-8z" fill="#0a0a0a"/>
<path d="M638.1 373.75H649.5V378.35H638.1ZM641.3 373.75h5v8h-5z" fill="#0a0a0a"/>
<text class="tk" font-size="10.8" x="541" y="100.2" text-anchor="end">10<tspan dy="-6.5" dx="0.6" font-size="11">6</tspan></text>
<text class="tk" font-size="10.8" x="541" y="151" text-anchor="end">10<tspan dy="-6.5" dx="0.6" font-size="11">5</tspan></text>
<text class="tk" font-size="10.8" x="541" y="222.25" text-anchor="end">10<tspan dy="-6.5" dx="0.6" font-size="11">4</tspan></text>
<text class="tk" font-size="10.8" x="541" y="292.25" text-anchor="end">0</text>
<text class="tk" font-size="10.8" x="541" y="362.25" text-anchor="end">-10<tspan dy="-6.5" dx="0.6" font-size="11">4</tspan></text>
<text class="tk" font-size="10.8" x="604.5" y="400.05" text-anchor="middle">-10<tspan dy="-6.5" dx="0.6" font-size="11">4</tspan></text>
<text class="tk" font-size="10.8" x="648" y="400.05" text-anchor="middle">0</text>
<text class="tk" font-size="10.8" x="700.75" y="400.05" text-anchor="middle">10<tspan dy="-6.5" dx="0.6" font-size="11">4</tspan></text>
<text class="tk" font-size="10.8" x="782.5" y="400.05" text-anchor="middle">10<tspan dy="-6.5" dx="0.6" font-size="11">5</tspan></text>
<text class="tk" font-size="10.8" x="829.25" y="400.05" text-anchor="middle">10<tspan dy="-6.5" dx="0.6" font-size="11">6</tspan></text>
<text class="q" font-size="24" x="569.7" y="118" textLength="63.2" lengthAdjust="spacingAndGlyphs">0.055</text>
<text class="q" font-size="24" x="805.7" y="123.75" textLength="15.2" lengthAdjust="spacingAndGlyphs">0</text>
<text class="q" font-size="24" x="569.7" y="359.25" textLength="49.7" lengthAdjust="spacingAndGlyphs">99.9</text>
<text class="q" font-size="24" x="768.7" y="357.5" textLength="62.7" lengthAdjust="spacingAndGlyphs">0.082</text>
<text class="ax" font-size="34" transform="translate(498.75 339.25) rotate(-90)" textLength="255.5" lengthAdjust="spacingAndGlyphs">CCR4 &#160;- PECF594</text>
<text class="ax" font-size="34" x="557.75" y="441.25" textLength="238.25" lengthAdjust="spacingAndGlyphs">GATA3 - BV421</text>
</g>
<g id="FA3">
<g filter="url(#flFA3)">
<rect x="995" y="80" width="293.25" height="297.5" fill="none"/>
<clipPath id="cpFA3"><rect x="995" y="158" width="171" height="219.5"/></clipPath>
<g clip-path="url(#cpFA3)">
<ellipse cx="1105" cy="295.75" rx="57.99" ry="40.2" fill="url(#gg2_6)" opacity="1.0"/>
<ellipse cx="1115" cy="268.75" rx="63.7" ry="34.75" fill="url(#gg3)" opacity="0.12"/>
<ellipse cx="1112.5" cy="201.25" rx="41.1" ry="75.36" fill="url(#gg2_5)" opacity="0.28"/>
<ellipse cx="1092.5" cy="185" rx="43.43" ry="49.22" fill="url(#gg3)" opacity="0.09"/>
<ellipse cx="1140" cy="185" rx="43.43" ry="49.22" fill="url(#gg3)" opacity="0.09"/>
<ellipse cx="1092.5" cy="232.5" rx="43.43" ry="49.22" fill="url(#gg3)" opacity="0.09"/>
<ellipse cx="1140" cy="232.5" rx="43.43" ry="49.22" fill="url(#gg3)" opacity="0.09"/>
<ellipse cx="1135" cy="292.5" rx="46.33" ry="34.75" fill="url(#gg3)" opacity="0.07"/>
</g>
</g>
<path d="M1174.5 240.5h0M1174.5 211.5h0M1171.5 215.5h0M1182.5 237.5h0M1182.5 231.5h0M1178.5 228.5h0M1166.5 252.5h0M1179.5 239.5h0M1171.5 206.5h0M1177.5 220.5h0M1179.5 200.5h0M1177.5 236.5h0M1172.5 282.5h0M1179.5 264.5h0M1172.5 196.5h0M1174.5 218.5h0M1179.5 231.5h0M1173.5 189.5h0M1173.5 265.5h0M1171.5 231.5h0M1178.5 170.5h0M1176.5 268.5h0M1175.5 193.5h0M1179.5 220.5h0M1168.5 251.5h0M1180.5 255.5h0M1184.5 235.5h0M1176.5 177.5h0M1179.5 201.5h0M1173.5 178.5h0M1170.5 203.5h0M1168.5 230.5h0M1184.5 242.5h0M1178.5 196.5h0M1169.5 256.5h0M1182.5 228.5h0M1177.5 237.5h0M1185.5 244.5h0M1179.5 241.5h0M1181.5 241.5h0M1180.5 159.5h0M1175.5 258.5h0M1179.5 217.5h0M1178.5 245.5h0M1176.5 262.5h0M1172.5 207.5h0M1182.5 223.5h0M1171.5 255.5h0M1184.5 206.5h0M1168.5 217.5h0M1175.5 212.5h0M1184.5 186.5h0M1183.5 178.5h0M1171.5 244.5h0M1182.5 252.5h0M1178.5 227.5h0M1177.5 242.5h0M1175.5 232.5h0M1179.5 222.5h0M1180.5 242.5h0M1173.5 209.5h0M1176.5 254.5h0M1174.5 236.5h0M1169.5 231.5h0M1178.5 230.5h0M1173.5 245.5h0M1177.5 204.5h0M1173.5 219.5h0M1174.5 220.5h0M1181.5 181.5h0M1175.5 255.5h0M1181.5 274.5h0M1166.5 210.5h0M1174.5 244.5h0M1182.5 171.5h0M1180.5 170.5h0M1177.5 264.5h0M1175.5 229.5h0M1180.5 227.5h0M1175.5 276.5h0M1182.5 212.5h0M1181.5 213.5h0M1176.5 247.5h0M1177.5 244.5h0M1179.5 188.5h0M1170.5 171.5h0M1183.5 248.5h0M1184.5 189.5h0M1176.5 182.5h0M1180.5 278.5h0M1171.5 277.5h0M1181.5 216.5h0M1175.5 201.5h0M1178.5 236.5h0M1184.5 186.5h0M1182.5 274.5h0M1184.5 216.5h0M1172.5 258.5h0M1176.5 226.5h0M1184.5 213.5h0M1178.5 201.5h0M1176.5 251.5h0M1176.5 268.5h0M1175.5 258.5h0M1172.5 253.5h0M1169.5 222.5h0M1175.5 221.5h0M1172.5 230.5h0M1186.5 224.5h0M1179.5 257.5h0M1175.5 178.5h0M1173.5 260.5h0M1166.5 201.5h0M1181.5 250.5h0M1176.5 250.5h0M1177.5 181.5h0M1167.5 200.5h0M1181.5 202.5h0M1171.5 195.5h0M1167.5 218.5h0M1169.5 235.5h0M1180.5 212.5h0M1177.5 206.5h0M1180.5 248.5h0M1179.5 233.5h0M1183.5 245.5h0M1181.5 268.5h0M1174.5 206.5h0M1171.5 246.5h0M1186.5 218.5h0M1179.5 254.5h0M1171.5 219.5h0M1177.5 251.5h0M1176.5 215.5h0M1170.5 209.5h0M1181.5 226.5h0M1171.5 193.5h0M1179.5 239.5h0M1185.5 237.5h0M1175.5 240.5h0M1178.5 197.5h0M1168.5 199.5h0M1177.5 228.5h0M1174.5 188.5h0M1169.5 175.5h0M1185.5 257.5h0M1186.5 250.5h0M1171.5 231.5h0M1175.5 240.5h0M1172.5 218.5h0M1178.5 235.5h0M1179.5 229.5h0M1174.5 250.5h0M1176.5 193.5h0M1172.5 222.5h0M1175.5 227.5h0M1176.5 228.5h0M1175.5 178.5h0M1178.5 259.5h0M1178.5 215.5h0M1178.5 188.5h0M1165.5 224.5h0M1171.5 248.5h0M1170.5 277.5h0M1174.5 174.5h0M1171.5 240.5h0M1179.5 228.5h0M1184.5 247.5h0M1176.5 243.5h0M1185.5 256.5h0M1182.5 184.5h0M1175.5 248.5h0M1174.5 259.5h0M1179.5 254.5h0M1183.5 214.5h0M1174.5 253.5h0M1181.5 222.5h0M1169.5 229.5h0M1178.5 262.5h0M1180.5 223.5h0M1181.5 241.5h0M1177.5 224.5h0M1174.5 246.5h0M1170.5 200.5h0M1176.5 171.5h0M1172.5 242.5h0M1179.5 220.5h0M1174.5 172.5h0M1186.5 240.5h0M1182.5 191.5h0M1175.5 158.5h0M1180.5 255.5h0M1165.5 220.5h0M1179.5 160.5h0M1172.5 173.5h0M1176.5 231.5h0M1179.5 247.5h0M1184.5 263.5h0M1168.5 204.5h0M1170.5 184.5h0M1175.5 222.5h0M1179.5 166.5h0M1169.5 221.5h0M1175.5 211.5h0M1175.5 195.5h0M1180.5 234.5h0M1175.5 198.5h0M1170.5 223.5h0M1167.5 229.5h0M1177.5 174.5h0M1174.5 211.5h0M1178.5 243.5h0M1176.5 192.5h0M1175.5 220.5h0M1180.5 232.5h0M1172.5 175.5h0M1174.5 196.5h0M1169.5 218.5h0M1173.5 226.5h0M1179.5 208.5h0M1142.5 156.5h0M1096.5 157.5h0M1123.5 160.5h0M1134.5 159.5h0M1127.5 155.5h0M1127.5 152.5h0M1144.5 153.5h0M1109.5 156.5h0M1144.5 156.5h0M1094.5 157.5h0M1129.5 158.5h0M1095.5 161.5h0M1156.5 156.5h0M1121.5 154.5h0M1150.5 154.5h0M1131.5 154.5h0M1097.5 158.5h0M1148.5 156.5h0M1098.5 158.5h0M1113.5 157.5h0M1153.5 159.5h0M1115.5 158.5h0M1098.5 156.5h0M1149.5 152.5h0M1144.5 154.5h0M1113.5 155.5h0M1111.5 152.5h0M1115.5 151.5h0M1113.5 157.5h0M1126.5 155.5h0M1092.5 156.5h0M1102.5 161.5h0M1134.5 155.5h0M1103.5 154.5h0M1091.5 155.5h0M1122.5 157.5h0M1097.5 156.5h0M1101.5 156.5h0M1118.5 157.5h0M1109.5 157.5h0M1116.5 158.5h0M1114.5 153.5h0M1088.5 158.5h0M1098.5 158.5h0M1133.5 157.5h0M1127.5 155.5h0M1079.5 156.5h0M1126.5 154.5h0M1112.5 158.5h0M1093.5 158.5h0M1161.5 154.5h0M1118.5 155.5h0M1153.5 157.5h0M1137.5 154.5h0M1114.5 156.5h0M1137.5 150.5h0M1133.5 155.5h0M1126.5 157.5h0M1077.5 155.5h0M1152.5 154.5h0M1089.5 152.5h0M1084.5 157.5h0M1157.5 157.5h0M1102.5 154.5h0M1128.5 157.5h0M1089.5 152.5h0M1122.5 157.5h0M1082.5 155.5h0M1101.5 157.5h0M1112.5 155.5h0M1106.5 159.5h0M1149.5 155.5h0M1136.5 153.5h0M1116.5 158.5h0M1152.5 155.5h0M1113.5 156.5h0M1077.5 156.5h0M1098.5 157.5h0M1115.5 157.5h0M1101.5 159.5h0M1175.5 291.5h0M1180.5 281.5h0M1173.5 297.5h0M1182.5 295.5h0M1179.5 290.5h0M1179.5 314.5h0M1173.5 297.5h0M1178.5 307.5h0M1181.5 305.5h0M1178.5 300.5h0M1183.5 301.5h0M1182.5 293.5h0M1177.5 294.5h0M1174.5 289.5h0M1173.5 303.5h0M1177.5 298.5h0M1176.5 306.5h0M1180.5 296.5h0M1181.5 295.5h0M1170.5 312.5h0M1180.5 287.5h0M1184.5 300.5h0M1179.5 306.5h0M1178.5 296.5h0M1167.5 307.5h0M1177.5 294.5h0M1179.5 298.5h0M1181.5 293.5h0M1174.5 304.5h0M1185.5 293.5h0M1176.5 313.5h0M1175.5 304.5h0M1187.5 297.5h0M1185.5 290.5h0M1178.5 296.5h0M1178.5 308.5h0M1173.5 302.5h0M1170.5 302.5h0M1181.5 294.5h0M1180.5 282.5h0" stroke="#3030ff" stroke-width="1.9" stroke-linecap="round" fill="none" opacity=".6"/>
<rect x="995" y="80" width="293.25" height="297.5" fill="none" stroke="#555" stroke-width="1.4"/>
<path d="M995 80V377.5" stroke="#2a2a2a" stroke-width="1.8" fill="none"/>
<path d="M1166.25 80V377.5M995 257.5H1288.25" stroke="#0a0a0a" stroke-width="2.3" fill="none"/>
<path d="M987 267H995M987 192.5H995M987 134.25H995M987 80H995M991 255.97H995M991 244.65H995M991 234.97H995M989.5 224.53H995M991 216.64H995M991 209.78H995M991 203.53H995M991 197.72H995M991 174.97H995M991 164.71H995M991 157.43H995M989.5 151.78H995M991 147.17H995M991 143.27H995M991 139.9H995M991 136.92H995M991 117.92H995M991 108.37H995M991 101.59H995M989.5 96.33H995M991 92.04H995M991 88.4H995M991 85.26H995M991 82.48H995M987 267H995M987 325.75H995M991 288.56H995M991 303.25H995M991 282.81H995M991 309.25H995M991 277.93H995M991 314.35H995M991 273.9H995M991 318.55H995M991 270.45H995M991 322.15H995M991 336.78H995M991 348.1H995M991 357.78H995M991 368.21H995M991 376.11H995M1011.4 377.5V385.5M1071.4 377.5V385.5M1092.4 377.5V385.5M1152.4 377.5V385.5M1224.4 377.5V385.5M1284.8 377.5V385.5M1104.88 377.5V381.5M1114.96 377.5V381.5M1123.6 377.5V381.5M1130.8 377.5V383M1136.56 377.5V381.5M1141.84 377.5V381.5M1146.64 377.5V381.5M1149.52 377.5V381.5M1058.92 377.5V381.5M1048.84 377.5V381.5M1040.2 377.5V381.5M1033 377.5V383M1027.24 377.5V381.5M1021.96 377.5V381.5M1017.16 377.5V381.5M1014.28 377.5V381.5M1174.07 377.5V381.5M1186.75 377.5V381.5M1195.75 377.5V381.5M1202.73 377.5V383M1208.43 377.5V381.5M1213.25 377.5V381.5M1217.42 377.5V381.5M1221.11 377.5V381.5M1242.58 377.5V381.5M1253.22 377.5V381.5M1260.76 377.5V381.5M1266.62 377.5V383M1271.4 377.5V381.5M1275.44 377.5V381.5M1278.95 377.5V381.5M1282.04 377.5V381.5" stroke="#222" stroke-width="1.5" fill="none"/>
<path d="M990.4 291.75H995V299.75H990.4ZM987 293.75h8v4h-8z" fill="#0a0a0a"/>
<path d="M1071.4 377.5H1092.4V382.1H1071.4ZM1079.4 377.5h5v8h-5z" fill="#0a0a0a"/>
<text class="tk" font-size="10.8" x="981.5" y="93.95" text-anchor="end">10<tspan dy="-6.5" dx="0.6" font-size="11">6</tspan></text>
<text class="tk" font-size="10.8" x="981.5" y="140.25" text-anchor="end">10<tspan dy="-6.5" dx="0.6" font-size="11">5</tspan></text>
<text class="tk" font-size="10.8" x="981.5" y="198.5" text-anchor="end">10<tspan dy="-6.5" dx="0.6" font-size="11">4</tspan></text>
<text class="tk" font-size="10.8" x="981.5" y="273" text-anchor="end">10<tspan dy="-6.5" dx="0.6" font-size="11">3</tspan></text>
<text class="tk" font-size="10.8" x="981.5" y="301.75" text-anchor="end">0</text>
<text class="tk" font-size="10.8" x="981.5" y="331.75" text-anchor="end">-10<tspan dy="-6.5" dx="0.6" font-size="11">3</tspan></text>
<text class="tk" font-size="10.8" x="1021.25" y="403.8" text-anchor="middle">-10<tspan dy="-6.5" dx="0.6" font-size="11">4</tspan></text>
<text class="tk" font-size="10.8" x="1087" y="403.8" text-anchor="middle">0</text>
<text class="tk" font-size="10.8" x="1161.75" y="403.8" text-anchor="middle">10<tspan dy="-6.5" dx="0.6" font-size="11">4</tspan></text>
<text class="tk" font-size="10.8" x="1233" y="403.8" text-anchor="middle">10<tspan dy="-6.5" dx="0.6" font-size="11">5</tspan></text>
<text class="tk" font-size="10.8" x="1277.25" y="403.8" text-anchor="middle">10<tspan dy="-6.5" dx="0.6" font-size="11">6</tspan></text>
<text class="q" font-size="24" x="1014.2" y="115" textLength="50.2" lengthAdjust="spacingAndGlyphs">31.0</text>
<text class="q" font-size="24" x="1215.45" y="119.5" textLength="50.2" lengthAdjust="spacingAndGlyphs">0.26</text>
<text class="q" font-size="24" x="1014.2" y="363.75" textLength="50.2" lengthAdjust="spacingAndGlyphs">68.7</text>
<text class="q" font-size="24" x="1229.7" y="363" textLength="49.2" lengthAdjust="spacingAndGlyphs">0.11</text>
<text class="ax" font-size="34" transform="translate(945 339.25) rotate(-90)" textLength="193.5" lengthAdjust="spacingAndGlyphs">CD161 &#160;- PC7</text>
<text class="ax" font-size="34" x="1031.5" y="441.25" textLength="214" lengthAdjust="spacingAndGlyphs">CCR6 - BV605</text>
</g>
<g id="FA4">
<g filter="url(#flFA4)">
<rect x="1456.5" y="83.75" width="285.5" height="290" fill="none"/>
<clipPath id="cpFA4"><rect x="1456.5" y="83.75" width="214.75" height="290"/></clipPath>
<g clip-path="url(#cpFA4)">
<ellipse cx="1640" cy="279.25" rx="38.78" ry="38.78" fill="url(#gg2)" opacity="1.0"/>
<ellipse cx="1626.25" cy="270" rx="57.91" ry="49.22" fill="url(#gg3)" opacity="0.28"/>
<ellipse cx="1628.5" cy="202.5" rx="52.88" ry="44.07" fill="url(#gg2)" opacity="0.12"/>
<ellipse cx="1571.25" cy="200.75" rx="52.12" ry="34.75" fill="url(#gg3)" opacity="0.02"/>
<ellipse cx="1573.25" cy="275.75" rx="61.7" ry="44.07" fill="url(#gg2)" opacity="0.08"/>
<ellipse cx="1572.5" cy="237.5" rx="52.12" ry="40.54" fill="url(#gg3)" opacity="0.018"/>
<ellipse cx="1637.5" cy="235" rx="44.07" ry="52.88" fill="url(#gg2)" opacity="0.1"/>
</g>
</g>
<path d="M1493.5 253.5h0M1559.5 248.5h0M1532.5 240.5h0M1481.5 234.5h0M1552.5 254.5h0M1512.5 218.5h0M1519.5 231.5h0M1523.5 260.5h0M1477.5 221.5h0M1483.5 277.5h0M1543.5 261.5h0M1499.5 208.5h0M1510.5 253.5h0M1520.5 266.5h0M1511.5 296.5h0M1530.5 241.5h0M1496.5 269.5h0M1555.5 251.5h0M1535.5 240.5h0M1509.5 239.5h0M1523.5 250.5h0M1556.5 264.5h0M1535.5 248.5h0M1494.5 260.5h0M1513.5 238.5h0M1505.5 239.5h0M1559.5 259.5h0M1508.5 237.5h0M1538.5 247.5h0M1526.5 285.5h0M1551.5 254.5h0M1503.5 214.5h0M1524.5 235.5h0M1486.5 292.5h0M1492.5 232.5h0M1517.5 245.5h0M1531.5 224.5h0M1502.5 255.5h0M1496.5 255.5h0M1559.5 268.5h0M1566.5 276.5h0M1576.5 255.5h0M1535.5 217.5h0M1516.5 227.5h0M1519.5 218.5h0M1673.5 263.5h0M1678.5 226.5h0M1675.5 232.5h0M1677.5 228.5h0M1680.5 244.5h0M1677.5 248.5h0M1677.5 275.5h0M1675.5 260.5h0M1674.5 241.5h0M1679.5 266.5h0M1675.5 237.5h0M1671.5 260.5h0M1676.5 219.5h0M1677.5 236.5h0M1675.5 199.5h0M1678.5 224.5h0M1677.5 252.5h0M1674.5 244.5h0M1675.5 238.5h0M1676.5 227.5h0M1678.5 248.5h0M1672.5 257.5h0M1674.5 258.5h0M1679.5 224.5h0M1672.5 242.5h0M1677.5 241.5h0M1673.5 219.5h0M1674.5 291.5h0M1675.5 234.5h0M1675.5 217.5h0M1671.5 250.5h0M1680.5 260.5h0M1676.5 300.5h0M1675.5 207.5h0M1676.5 242.5h0M1672.5 224.5h0M1674.5 221.5h0M1678.5 255.5h0M1674.5 236.5h0M1678.5 258.5h0M1604.5 176.5h0M1648.5 176.5h0M1609.5 182.5h0M1650.5 174.5h0M1633.5 177.5h0M1625.5 183.5h0M1626.5 178.5h0M1628.5 176.5h0M1605.5 180.5h0M1604.5 176.5h0M1607.5 180.5h0M1623.5 178.5h0M1612.5 174.5h0M1629.5 175.5h0M1624.5 173.5h0M1622.5 184.5h0M1614.5 172.5h0M1633.5 176.5h0M1614.5 183.5h0M1648.5 173.5h0M1629.5 174.5h0M1617.5 178.5h0M1608.5 171.5h0M1606.5 182.5h0M1614.5 177.5h0M1619.5 180.5h0M1607.5 170.5h0M1613.5 176.5h0M1611.5 177.5h0M1631.5 180.5h0" stroke="#3030ff" stroke-width="1.9" stroke-linecap="round" fill="none" opacity=".6"/>
<rect x="1456.5" y="83.75" width="285.5" height="290" fill="none" stroke="#555" stroke-width="1.4"/>
<path d="M1456.5 83.75V373.75" stroke="#2a2a2a" stroke-width="1.8" fill="none"/>
<path d="M1742 83.05V374.45" stroke="#111" stroke-width="2.7" fill="none"/>
<path d="M1596.75 83.75V373.75M1456.5 224.25H1742" stroke="#0a0a0a" stroke-width="2.3" fill="none"/>
<path d="M1448.5 356.25H1456.5M1448.5 296.25H1456.5M1448.5 276.25H1456.5M1448.5 216.25H1456.5M1448.5 145H1456.5M1448.5 83.75H1456.5M1452.5 267.37H1456.5M1452.5 258.25H1456.5M1452.5 250.45H1456.5M1451 242.05H1456.5M1452.5 235.69H1456.5M1452.5 230.17H1456.5M1452.5 225.13H1456.5M1452.5 220.45H1456.5M1452.5 305.13H1456.5M1452.5 314.25H1456.5M1452.5 322.05H1456.5M1451 330.45H1456.5M1452.5 336.81H1456.5M1452.5 342.33H1456.5M1452.5 347.37H1456.5M1452.5 352.05H1456.5M1452.5 194.8H1456.5M1452.5 182.26H1456.5M1452.5 173.35H1456.5M1451 166.45H1456.5M1452.5 160.81H1456.5M1452.5 156.04H1456.5M1452.5 151.9H1456.5M1452.5 148.26H1456.5M1452.5 126.56H1456.5M1452.5 115.78H1456.5M1452.5 108.12H1456.5M1451 102.19H1456.5M1452.5 97.34H1456.5M1452.5 93.24H1456.5M1452.5 89.69H1456.5M1452.5 86.55H1456.5M1471.8 373.75V381.75M1530.9 373.75V381.75M1551 373.75V381.75M1609.1 373.75V381.75M1679.4 373.75V381.75M1738.7 373.75V381.75M1563.08 373.75V377.75M1572.85 373.75V377.75M1581.21 373.75V377.75M1588.18 373.75V379.25M1593.76 373.75V377.75M1598.87 373.75V377.75M1603.52 373.75V377.75M1606.31 373.75V377.75M1518.61 373.75V377.75M1508.68 373.75V377.75M1500.17 373.75V377.75M1493.08 373.75V379.25M1487.4 373.75V377.75M1482.2 373.75V377.75M1477.47 373.75V377.75M1474.64 373.75V377.75M1630.26 373.75V377.75M1642.64 373.75V377.75M1651.42 373.75V377.75M1658.24 373.75V379.25M1663.8 373.75V377.75M1668.51 373.75V377.75M1672.59 373.75V377.75M1676.18 373.75V377.75M1697.25 373.75V377.75M1707.69 373.75V377.75M1715.1 373.75V377.75M1720.85 373.75V379.25M1725.54 373.75V377.75M1729.51 373.75V377.75M1732.95 373.75V377.75M1735.99 373.75V377.75" stroke="#222" stroke-width="1.5" fill="none"/>
<path d="M1451.9 276.25H1456.5V296.25H1451.9ZM1448.5 284.25h8v4h-8z" fill="#0a0a0a"/>
<path d="M1530.9 373.75H1551V378.35H1530.9ZM1538.45 373.75h5v8h-5z" fill="#0a0a0a"/>
<text class="tk" font-size="10.8" x="1443" y="100.2" text-anchor="end">10<tspan dy="-6.5" dx="0.6" font-size="11">6</tspan></text>
<text class="tk" font-size="10.8" x="1443" y="151" text-anchor="end">10<tspan dy="-6.5" dx="0.6" font-size="11">5</tspan></text>
<text class="tk" font-size="10.8" x="1443" y="222.25" text-anchor="end">10<tspan dy="-6.5" dx="0.6" font-size="11">4</tspan></text>
<text class="tk" font-size="10.8" x="1443" y="292.25" text-anchor="end">0</text>
<text class="tk" font-size="10.8" x="1443" y="362.25" text-anchor="end">-10<tspan dy="-6.5" dx="0.6" font-size="11">4</tspan></text>
<text class="tk" font-size="10.8" x="1481.25" y="400.05" text-anchor="middle">-10<tspan dy="-6.5" dx="0.6" font-size="11">4</tspan></text>
<text class="tk" font-size="10.8" x="1545.5" y="400.05" text-anchor="middle">0</text>
<text class="tk" font-size="10.8" x="1618.25" y="400.05" text-anchor="middle">10<tspan dy="-6.5" dx="0.6" font-size="11">4</tspan></text>
<text class="tk" font-size="10.8" x="1688" y="400.05" text-anchor="middle">10<tspan dy="-6.5" dx="0.6" font-size="11">5</tspan></text>
<text class="tk" font-size="10.8" x="1731" y="400.05" text-anchor="middle">10<tspan dy="-6.5" dx="0.6" font-size="11">6</tspan></text>
<text class="q" font-size="24" x="1471.7" y="121.25" textLength="49.7" lengthAdjust="spacingAndGlyphs">0.52</text>
<text class="q" font-size="24" x="1673.45" y="125.5" textLength="49.7" lengthAdjust="spacingAndGlyphs">4.06</text>
<text class="q" font-size="24" x="1471.7" y="363" textLength="49.7" lengthAdjust="spacingAndGlyphs">3.82</text>
<text class="q" font-size="24" x="1667.2" y="361.25" textLength="49.7" lengthAdjust="spacingAndGlyphs">91.6</text>
<text class="ax" font-size="34" transform="translate(1403.75 328) rotate(-90)" textLength="181" lengthAdjust="spacingAndGlyphs">TBET - APC</text>
<text class="ax" font-size="34" x="1508.5" y="441.25" textLength="180" lengthAdjust="spacingAndGlyphs">CXCR4 - PE</text>
</g>
<g id="FB1">
<g filter="url(#flFB1)">
<rect x="78" y="1303.75" width="285.75" height="290" fill="none"/>
<ellipse cx="182.5" cy="1492.5" rx="30.14" ry="39.73" fill="url(#gg2_5)" opacity="1.0"/>
<ellipse cx="180.5" cy="1423.75" rx="24.66" ry="43.84" fill="url(#gg2_5)" opacity="0.66"/>
<ellipse cx="181.25" cy="1457.5" rx="29.09" ry="61.7" fill="url(#gg2)" opacity="0.35"/>
<ellipse cx="226.25" cy="1487.5" rx="54.65" ry="51.12" fill="url(#gg2)" opacity="0.055"/>
<ellipse cx="207.5" cy="1490" rx="44.07" ry="48.48" fill="url(#gg2)" opacity="0.12"/>
<ellipse cx="225" cy="1455" rx="61.7" ry="52.88" fill="url(#gg2)" opacity="0.015"/>
</g>
<path d="M217.5 1441.5h0M253.5 1426.5h0M215.5 1433.5h0M245.5 1454.5h0M217.5 1412.5h0M248.5 1443.5h0M262.5 1452.5h0M235.5 1430.5h0M224.5 1415.5h0M239.5 1437.5h0M231.5 1433.5h0M241.5 1447.5h0M255.5 1438.5h0M208.5 1447.5h0M214.5 1432.5h0M213.5 1435.5h0M224.5 1438.5h0M251.5 1411.5h0M232.5 1446.5h0M235.5 1441.5h0M239.5 1417.5h0M246.5 1420.5h0M267.5 1426.5h0M248.5 1435.5h0M252.5 1424.5h0M253.5 1432.5h0M258.5 1445.5h0M239.5 1421.5h0M249.5 1443.5h0M264.5 1428.5h0M246.5 1443.5h0M242.5 1438.5h0M240.5 1424.5h0M221.5 1428.5h0M247.5 1461.5h0M253.5 1453.5h0M250.5 1447.5h0M240.5 1448.5h0M266.5 1429.5h0M241.5 1451.5h0M251.5 1415.5h0M240.5 1448.5h0M239.5 1419.5h0M235.5 1441.5h0M255.5 1447.5h0M238.5 1458.5h0M225.5 1448.5h0M255.5 1429.5h0M241.5 1444.5h0M262.5 1417.5h0M237.5 1446.5h0M253.5 1418.5h0M230.5 1438.5h0M239.5 1462.5h0M236.5 1467.5h0M226.5 1426.5h0M249.5 1459.5h0M248.5 1440.5h0M207.5 1422.5h0M227.5 1425.5h0M247.5 1429.5h0M250.5 1436.5h0M232.5 1437.5h0M244.5 1450.5h0M229.5 1430.5h0M261.5 1431.5h0M229.5 1413.5h0M240.5 1438.5h0M260.5 1438.5h0M211.5 1438.5h0M267.5 1507.5h0M256.5 1478.5h0M249.5 1516.5h0M244.5 1512.5h0M264.5 1486.5h0M251.5 1490.5h0M247.5 1490.5h0M268.5 1509.5h0M256.5 1486.5h0M256.5 1481.5h0M241.5 1509.5h0M270.5 1511.5h0M269.5 1503.5h0M251.5 1501.5h0M254.5 1484.5h0M257.5 1502.5h0M253.5 1519.5h0M259.5 1508.5h0M268.5 1488.5h0M251.5 1518.5h0M260.5 1513.5h0M263.5 1490.5h0M250.5 1494.5h0M264.5 1512.5h0M266.5 1477.5h0M256.5 1508.5h0M250.5 1503.5h0M259.5 1513.5h0M250.5 1488.5h0M250.5 1524.5h0M267.5 1498.5h0M259.5 1501.5h0M259.5 1497.5h0M254.5 1482.5h0M251.5 1522.5h0" stroke="#3030ff" stroke-width="1.9" stroke-linecap="round" fill="none" opacity=".6"/>
<rect x="78" y="1303.75" width="285.75" height="290" fill="none" stroke="#555" stroke-width="1.4"/>
<path d="M78 1303.75V1593.75" stroke="#2a2a2a" stroke-width="1.8" fill="none"/>
<path d="M363.75 1303.05V1594.45" stroke="#111" stroke-width="2.7" fill="none"/>
<path d="M208.25 1303.75V1593.75M78 1450.75H363.75" stroke="#0a0a0a" stroke-width="2.3" fill="none"/>
<path d="M70 1577.5H78M70 1516.25H78M70 1496.25H78M70 1438.25H78M70 1366.25H78M70 1303.75H78M74 1487.67H78M74 1478.85H78M74 1471.31H78M72.5 1463.19H78M74 1457.04H78M74 1451.71H78M74 1446.83H78M74 1442.31H78M74 1525.32H78M74 1534.62H78M74 1542.59H78M72.5 1551.16H78M74 1557.65H78M74 1563.29H78M74 1568.43H78M74 1573.21H78M74 1416.58H78M74 1403.9H78M74 1394.9H78M72.5 1387.92H78M74 1382.22H78M74 1377.4H78M74 1373.23H78M74 1369.54H78M74 1347.44H78M74 1336.43H78M74 1328.62H78M72.5 1322.56H78M74 1317.62H78M74 1313.43H78M74 1309.81H78M74 1306.61H78M78.1 1593.75V1601.75M144.8 1593.75V1601.75M173.3 1593.75V1601.75M240 1593.75V1601.75M304.4 1593.75V1601.75M360.4 1593.75V1601.75M187.17 1593.75V1597.75M198.38 1593.75V1597.75M207.98 1593.75V1597.75M215.99 1593.75V1599.25M222.39 1593.75V1597.75M228.26 1593.75V1597.75M233.6 1593.75V1597.75M236.8 1593.75V1597.75M130.93 1593.75V1597.75M119.72 1593.75V1597.75M110.12 1593.75V1597.75M102.11 1593.75V1599.25M95.71 1593.75V1597.75M89.84 1593.75V1597.75M84.5 1593.75V1597.75M81.3 1593.75V1597.75M259.39 1593.75V1597.75M270.73 1593.75V1597.75M278.77 1593.75V1597.75M285.01 1593.75V1599.25M290.11 1593.75V1597.75M294.42 1593.75V1597.75M298.16 1593.75V1597.75M301.45 1593.75V1597.75M321.26 1593.75V1597.75M331.12 1593.75V1597.75M338.12 1593.75V1597.75M343.54 1593.75V1599.25M347.98 1593.75V1597.75M351.73 1593.75V1597.75M354.97 1593.75V1597.75M357.84 1593.75V1597.75" stroke="#222" stroke-width="1.5" fill="none"/>
<path d="M73.4 1496.25H78V1516.25H73.4ZM70 1504.25h8v4h-8z" fill="#0a0a0a"/>
<path d="M144.8 1593.75H173.3V1598.35H144.8ZM156.55 1593.75h5v8h-5z" fill="#0a0a0a"/>
<text class="tk" font-size="10.8" x="64.5" y="1320.95" text-anchor="end">10<tspan dy="-6.5" dx="0.6" font-size="11">6</tspan></text>
<text class="tk" font-size="10.8" x="64.5" y="1372.25" text-anchor="end">10<tspan dy="-6.5" dx="0.6" font-size="11">5</tspan></text>
<text class="tk" font-size="10.8" x="64.5" y="1444.25" text-anchor="end">10<tspan dy="-6.5" dx="0.6" font-size="11">4</tspan></text>
<text class="tk" font-size="10.8" x="64.5" y="1512.25" text-anchor="end">0</text>
<text class="tk" font-size="10.8" x="64.5" y="1583.5" text-anchor="end">-10<tspan dy="-6.5" dx="0.6" font-size="11">4</tspan></text>
<text class="tk" font-size="10.8" x="96.25" y="1620.05" text-anchor="middle">-10<tspan dy="-6.5" dx="0.6" font-size="11">4</tspan></text>
<text class="tk" font-size="10.8" x="165" y="1620.05" text-anchor="middle">0</text>
<text class="tk" font-size="10.8" x="248.5" y="1620.05" text-anchor="middle">10<tspan dy="-6.5" dx="0.6" font-size="11">4</tspan></text>
<text class="tk" font-size="10.8" x="313.75" y="1620.05" text-anchor="middle">10<tspan dy="-6.5" dx="0.6" font-size="11">5</tspan></text>
<text class="tk" font-size="10.8" x="352.75" y="1620.05" text-anchor="middle">10<tspan dy="-6.5" dx="0.6" font-size="11">6</tspan></text>
<text class="q" font-size="24" x="89.2" y="1334.25" textLength="49.2" lengthAdjust="spacingAndGlyphs">29.7</text>
<text class="q" font-size="24" x="290.45" y="1338.25" textLength="49.7" lengthAdjust="spacingAndGlyphs">0.34</text>
<text class="q" font-size="24" x="89.2" y="1575.75" textLength="49.2" lengthAdjust="spacingAndGlyphs">61.7</text>
<text class="q" font-size="24" x="284.2" y="1574.5" textLength="49.7" lengthAdjust="spacingAndGlyphs">8.30</text>
<text class="ax" font-size="34" transform="translate(24.5 1516.75) rotate(-90)" textLength="180.25" lengthAdjust="spacingAndGlyphs">TBET - APC</text>
<text class="ax" font-size="34" x="114" y="1657" textLength="234.5" lengthAdjust="spacingAndGlyphs">CXCR3 - AF488</text>
</g>
<g id="FB2">
<g filter="url(#flFB2)">
<rect x="547" y="1303.75" width="284.5" height="290" fill="none"/>
<clipPath id="cpFB2"><rect x="547" y="1303.75" width="174.75" height="290"/></clipPath>
<g clip-path="url(#cpFB2)">
<ellipse cx="683.75" cy="1500" rx="48.48" ry="41.43" fill="url(#gg2)" opacity="1.0"/>
<ellipse cx="668.75" cy="1500" rx="52.88" ry="44.07" fill="url(#gg2)" opacity="0.2"/>
<ellipse cx="680" cy="1472.5" rx="54.65" ry="52.88" fill="url(#gg2)" opacity="0.1"/>
<ellipse cx="682.5" cy="1447.5" rx="61.7" ry="30.85" fill="url(#gg2)" opacity="0.012"/>
</g>
</g>
<path d="M753.5 1524.5h0M738.5 1471.5h0M761.5 1510.5h0M764.5 1509.5h0M753.5 1491.5h0M740.5 1497.5h0M748.5 1516.5h0M770.5 1481.5h0M772.5 1501.5h0M769.5 1472.5h0M771.5 1476.5h0M790.5 1490.5h0M753.5 1531.5h0M719.5 1502.5h0M734.5 1493.5h0M740.5 1512.5h0M750.5 1507.5h0M771.5 1473.5h0M787.5 1497.5h0M721.5 1490.5h0M776.5 1518.5h0M742.5 1503.5h0M762.5 1518.5h0M754.5 1518.5h0M738.5 1489.5h0M771.5 1513.5h0M756.5 1511.5h0M761.5 1514.5h0M782.5 1510.5h0M775.5 1495.5h0M766.5 1502.5h0M768.5 1470.5h0M746.5 1492.5h0M783.5 1480.5h0M767.5 1530.5h0M731.5 1518.5h0M727.5 1484.5h0M762.5 1521.5h0M730.5 1489.5h0M733.5 1520.5h0M745.5 1511.5h0M771.5 1521.5h0M766.5 1507.5h0M782.5 1509.5h0M730.5 1492.5h0M777.5 1504.5h0M749.5 1505.5h0M768.5 1509.5h0M751.5 1521.5h0M776.5 1508.5h0M660.5 1448.5h0M698.5 1437.5h0M662.5 1436.5h0M675.5 1431.5h0M702.5 1439.5h0M706.5 1430.5h0M681.5 1448.5h0M690.5 1432.5h0M668.5 1433.5h0M683.5 1443.5h0M687.5 1444.5h0M699.5 1439.5h0M707.5 1444.5h0M681.5 1437.5h0M684.5 1432.5h0M660.5 1438.5h0M675.5 1442.5h0M673.5 1439.5h0M688.5 1434.5h0M687.5 1432.5h0M676.5 1444.5h0M691.5 1438.5h0M670.5 1443.5h0M703.5 1440.5h0M704.5 1447.5h0M673.5 1436.5h0M695.5 1437.5h0M689.5 1434.5h0M665.5 1438.5h0M664.5 1448.5h0M688.5 1449.5h0M661.5 1441.5h0M658.5 1427.5h0M689.5 1435.5h0M696.5 1444.5h0M690.5 1428.5h0M680.5 1440.5h0M686.5 1438.5h0M681.5 1433.5h0M714.5 1437.5h0M722.5 1513.5h0M725.5 1470.5h0M723.5 1534.5h0M725.5 1511.5h0M726.5 1499.5h0M723.5 1537.5h0M724.5 1500.5h0M725.5 1503.5h0M724.5 1541.5h0M725.5 1482.5h0M727.5 1498.5h0M722.5 1501.5h0M723.5 1496.5h0M722.5 1517.5h0M725.5 1525.5h0M727.5 1508.5h0M724.5 1508.5h0M722.5 1490.5h0M725.5 1483.5h0M720.5 1494.5h0M724.5 1534.5h0M723.5 1481.5h0M724.5 1498.5h0M724.5 1490.5h0M724.5 1489.5h0M726.5 1508.5h0M725.5 1492.5h0M721.5 1502.5h0M724.5 1526.5h0M726.5 1501.5h0M724.5 1480.5h0M724.5 1506.5h0M723.5 1478.5h0M726.5 1482.5h0M727.5 1483.5h0M725.5 1471.5h0M723.5 1469.5h0M723.5 1491.5h0M726.5 1525.5h0M723.5 1495.5h0M722.5 1477.5h0M721.5 1497.5h0M725.5 1485.5h0M725.5 1477.5h0M722.5 1490.5h0M725.5 1490.5h0M725.5 1494.5h0M723.5 1481.5h0M726.5 1511.5h0M721.5 1519.5h0M722.5 1507.5h0M721.5 1486.5h0M725.5 1507.5h0M725.5 1514.5h0M723.5 1513.5h0M724.5 1498.5h0M724.5 1507.5h0M725.5 1508.5h0M724.5 1512.5h0M726.5 1503.5h0" stroke="#3030ff" stroke-width="1.9" stroke-linecap="round" fill="none" opacity=".6"/>
<rect x="547" y="1303.75" width="284.5" height="290" fill="none" stroke="#555" stroke-width="1.4"/>
<path d="M547 1303.75V1593.75" stroke="#2a2a2a" stroke-width="1.8" fill="none"/>
<path d="M722.5 1303.75V1593.75M547 1452.5H831.5" stroke="#0a0a0a" stroke-width="2.3" fill="none"/>
<path d="M539 1577.5H547M539 1516.25H547M539 1496.25H547M539 1438.25H547M539 1366.25H547M539 1303.75H547M543 1487.67H547M543 1478.85H547M543 1471.31H547M541.5 1463.19H547M543 1457.04H547M543 1451.71H547M543 1446.83H547M543 1442.31H547M543 1525.32H547M543 1534.62H547M543 1542.59H547M541.5 1551.16H547M543 1557.65H547M543 1563.29H547M543 1568.43H547M543 1573.21H547M543 1416.58H547M543 1403.9H547M543 1394.9H547M541.5 1387.92H547M543 1382.22H547M543 1377.4H547M543 1373.23H547M543 1369.54H547M543 1347.44H547M543 1336.43H547M543 1328.62H547M541.5 1322.56H547M543 1317.62H547M543 1313.43H547M543 1309.81H547M543 1306.61H547M587.1 1593.75V1601.75M630.4 1593.75V1601.75M641.8 1593.75V1601.75M684.3 1593.75V1601.75M765.6 1593.75V1601.75M828.1 1593.75V1601.75M650.64 1593.75V1597.75M657.78 1593.75V1597.75M663.9 1593.75V1597.75M669 1593.75V1599.25M673.08 1593.75V1597.75M676.82 1593.75V1597.75M680.22 1593.75V1597.75M682.26 1593.75V1597.75M621.39 1593.75V1597.75M614.12 1593.75V1597.75M607.88 1593.75V1597.75M602.69 1593.75V1599.25M598.53 1593.75V1597.75M594.72 1593.75V1597.75M591.26 1593.75V1597.75M589.18 1593.75V1597.75M708.77 1593.75V1597.75M723.09 1593.75V1597.75M733.25 1593.75V1597.75M741.13 1593.75V1599.25M747.56 1593.75V1597.75M753.01 1593.75V1597.75M757.72 1593.75V1597.75M761.88 1593.75V1597.75M784.41 1593.75V1597.75M795.42 1593.75V1597.75M803.23 1593.75V1597.75M809.29 1593.75V1599.25M814.23 1593.75V1597.75M818.42 1593.75V1597.75M822.04 1593.75V1597.75M825.24 1593.75V1597.75M562.63 1593.75V1597.75M548.31 1593.75V1597.75" stroke="#222" stroke-width="1.5" fill="none"/>
<path d="M542.4 1496.25H547V1516.25H542.4ZM539 1504.25h8v4h-8z" fill="#0a0a0a"/>
<path d="M630.4 1593.75H641.8V1598.35H630.4ZM633.6 1593.75h5v8h-5z" fill="#0a0a0a"/>
<text class="tk" font-size="10.8" x="533.5" y="1320.95" text-anchor="end">10<tspan dy="-6.5" dx="0.6" font-size="11">6</tspan></text>
<text class="tk" font-size="10.8" x="533.5" y="1372.25" text-anchor="end">10<tspan dy="-6.5" dx="0.6" font-size="11">5</tspan></text>
<text class="tk" font-size="10.8" x="533.5" y="1444.25" text-anchor="end">10<tspan dy="-6.5" dx="0.6" font-size="11">4</tspan></text>
<text class="tk" font-size="10.8" x="533.5" y="1512.25" text-anchor="end">0</text>
<text class="tk" font-size="10.8" x="533.5" y="1583.5" text-anchor="end">-10<tspan dy="-6.5" dx="0.6" font-size="11">4</tspan></text>
<text class="tk" font-size="10.8" x="597" y="1620.05" text-anchor="middle">-10<tspan dy="-6.5" dx="0.6" font-size="11">4</tspan></text>
<text class="tk" font-size="10.8" x="640.75" y="1620.05" text-anchor="middle">0</text>
<text class="tk" font-size="10.8" x="693.75" y="1620.05" text-anchor="middle">10<tspan dy="-6.5" dx="0.6" font-size="11">4</tspan></text>
<text class="tk" font-size="10.8" x="775" y="1620.05" text-anchor="middle">10<tspan dy="-6.5" dx="0.6" font-size="11">5</tspan></text>
<text class="tk" font-size="10.8" x="821.5" y="1620.05" text-anchor="middle">10<tspan dy="-6.5" dx="0.6" font-size="11">6</tspan></text>
<text class="q" font-size="24" x="561.2" y="1340" textLength="49.7" lengthAdjust="spacingAndGlyphs">0.22</text>
<text class="q" font-size="24" x="798.7" y="1342" textLength="15.2" lengthAdjust="spacingAndGlyphs">0</text>
<text class="q" font-size="24" x="561.2" y="1581.75" textLength="49.7" lengthAdjust="spacingAndGlyphs">99.7</text>
<text class="q" font-size="24" x="756.2" y="1580" textLength="49.7" lengthAdjust="spacingAndGlyphs">0.11</text>
<text class="ax" font-size="34" transform="translate(483 1555.5) rotate(-90)" textLength="246.5" lengthAdjust="spacingAndGlyphs">CCR4 - PECF594</text>
<text class="ax" font-size="34" x="570.25" y="1656.25" textLength="238.25" lengthAdjust="spacingAndGlyphs">GATA3 - BV421</text>
</g>
<g id="FB3">
<g filter="url(#flFB3)">
<rect x="994.25" y="1303.75" width="286.25" height="290" fill="none"/>
<clipPath id="cpFB3"><rect x="994.25" y="1303.75" width="167.25" height="290"/></clipPath>
<g clip-path="url(#cpFB3)">
<ellipse cx="1100" cy="1516.25" rx="56.83" ry="56.83" fill="url(#gg2_3)" opacity="0.93"/>
<ellipse cx="1096.5" cy="1431.75" rx="54.65" ry="68.75" fill="url(#gg2)" opacity="0.3"/>
<ellipse cx="1125" cy="1460" rx="55.02" ry="86.87" fill="url(#gg3)" opacity="0.04"/>
<ellipse cx="1122.5" cy="1400" rx="55.02" ry="40.54" fill="url(#gg3)" opacity="0.03"/>
<ellipse cx="1100" cy="1475" rx="61.7" ry="52.88" fill="url(#gg2)" opacity="0.12"/>
</g>
</g>
<path d="M1122.5 1387.5h0M1118.5 1381.5h0M1123.5 1387.5h0M1141.5 1377.5h0M1121.5 1396.5h0M1115.5 1379.5h0M1118.5 1394.5h0M1124.5 1380.5h0M1141.5 1382.5h0M1122.5 1398.5h0M1112.5 1389.5h0M1102.5 1383.5h0M1107.5 1379.5h0M1130.5 1388.5h0M1108.5 1372.5h0M1114.5 1398.5h0M1126.5 1384.5h0M1124.5 1389.5h0M1082.5 1391.5h0M1100.5 1384.5h0M1107.5 1387.5h0M1137.5 1384.5h0M1121.5 1396.5h0M1127.5 1379.5h0M1134.5 1382.5h0M1112.5 1388.5h0M1149.5 1377.5h0M1110.5 1388.5h0M1100.5 1387.5h0M1119.5 1379.5h0M1131.5 1385.5h0M1097.5 1387.5h0M1125.5 1387.5h0M1155.5 1394.5h0M1099.5 1382.5h0M1124.5 1374.5h0M1114.5 1380.5h0M1122.5 1388.5h0M1105.5 1400.5h0M1106.5 1393.5h0M1097.5 1376.5h0M1105.5 1382.5h0M1135.5 1371.5h0M1149.5 1388.5h0M1108.5 1395.5h0M1108.5 1386.5h0M1113.5 1379.5h0M1108.5 1399.5h0M1114.5 1378.5h0M1131.5 1389.5h0M1140.5 1375.5h0M1149.5 1399.5h0M1103.5 1383.5h0M1128.5 1384.5h0M1134.5 1392.5h0M1118.5 1374.5h0M1092.5 1398.5h0M1154.5 1388.5h0M1136.5 1399.5h0M1135.5 1375.5h0M1164.5 1457.5h0M1172.5 1444.5h0M1173.5 1527.5h0M1168.5 1477.5h0M1164.5 1472.5h0M1179.5 1528.5h0M1173.5 1446.5h0M1168.5 1447.5h0M1171.5 1499.5h0M1168.5 1417.5h0M1181.5 1511.5h0M1175.5 1534.5h0M1175.5 1422.5h0M1173.5 1501.5h0M1174.5 1470.5h0M1165.5 1499.5h0M1177.5 1454.5h0M1164.5 1461.5h0M1164.5 1485.5h0M1162.5 1490.5h0M1165.5 1496.5h0M1179.5 1485.5h0M1176.5 1466.5h0M1166.5 1453.5h0M1180.5 1487.5h0M1159.5 1494.5h0M1162.5 1523.5h0M1163.5 1509.5h0M1172.5 1457.5h0M1180.5 1468.5h0M1164.5 1460.5h0M1173.5 1505.5h0M1173.5 1435.5h0M1166.5 1431.5h0M1169.5 1449.5h0M1177.5 1448.5h0M1175.5 1468.5h0M1181.5 1442.5h0M1171.5 1528.5h0M1176.5 1469.5h0M1169.5 1456.5h0M1183.5 1478.5h0M1174.5 1443.5h0M1163.5 1502.5h0M1177.5 1426.5h0M1162.5 1489.5h0M1161.5 1519.5h0M1181.5 1432.5h0M1169.5 1513.5h0M1179.5 1475.5h0M1170.5 1465.5h0M1176.5 1499.5h0M1169.5 1456.5h0M1170.5 1467.5h0M1168.5 1425.5h0M1172.5 1507.5h0M1172.5 1523.5h0M1174.5 1505.5h0M1177.5 1518.5h0M1163.5 1463.5h0M1111.5 1546.5h0M1101.5 1549.5h0M1109.5 1555.5h0M1108.5 1553.5h0M1096.5 1562.5h0M1082.5 1556.5h0M1093.5 1554.5h0M1089.5 1564.5h0M1124.5 1554.5h0M1144.5 1558.5h0M1134.5 1549.5h0M1094.5 1552.5h0M1098.5 1558.5h0M1103.5 1556.5h0M1087.5 1562.5h0M1113.5 1551.5h0M1113.5 1562.5h0M1111.5 1555.5h0M1118.5 1561.5h0M1113.5 1557.5h0M1096.5 1557.5h0M1078.5 1551.5h0M1078.5 1558.5h0M1098.5 1550.5h0M1096.5 1560.5h0M1123.5 1550.5h0M1097.5 1557.5h0M1111.5 1553.5h0M1141.5 1552.5h0M1108.5 1546.5h0" stroke="#3030ff" stroke-width="1.9" stroke-linecap="round" fill="none" opacity=".6"/>
<rect x="994.25" y="1303.75" width="286.25" height="290" fill="none" stroke="#555" stroke-width="1.4"/>
<path d="M994.25 1303.75V1593.75" stroke="#2a2a2a" stroke-width="1.8" fill="none"/>
<path d="M1280.5 1303.05V1594.45" stroke="#111" stroke-width="2.7" fill="none"/>
<path d="M1160.75 1303.75V1593.75M994.25 1467.5H1280.5" stroke="#0a0a0a" stroke-width="2.3" fill="none"/>
<path d="M986.25 1580.5H994.25M986.25 1530.5H994.25M986.25 1494.5H994.25M986.25 1422H994.25M986.25 1360.5H994.25M986.25 1303.75H994.25M990.25 1483.77H994.25M990.25 1472.75H994.25M990.25 1463.33H994.25M988.75 1453.17H994.25M990.25 1445.49H994.25M990.25 1438.82H994.25M990.25 1432.73H994.25M990.25 1427.08H994.25M990.25 1537.9H994.25M990.25 1545.5H994.25M990.25 1552H994.25M988.75 1559H994.25M990.25 1564.3H994.25M990.25 1568.9H994.25M990.25 1573.1H994.25M990.25 1577H994.25M990.25 1403.49H994.25M990.25 1392.66H994.25M990.25 1384.97H994.25M988.75 1379.01H994.25M990.25 1374.14H994.25M990.25 1370.03H994.25M990.25 1366.46H994.25M990.25 1363.31H994.25M990.25 1343.42H994.25M990.25 1333.42H994.25M990.25 1326.33H994.25M988.75 1320.83H994.25M990.25 1316.34H994.25M990.25 1312.54H994.25M990.25 1309.25H994.25M990.25 1306.35H994.25M1009.9 1593.75V1601.75M1069 1593.75V1601.75M1089.1 1593.75V1601.75M1147.6 1593.75V1601.75M1217.1 1593.75V1601.75M1276.8 1593.75V1601.75M1101.27 1593.75V1597.75M1111.1 1593.75V1597.75M1119.52 1593.75V1597.75M1126.54 1593.75V1599.25M1132.16 1593.75V1597.75M1137.3 1593.75V1597.75M1141.98 1593.75V1597.75M1144.79 1593.75V1597.75M1056.71 1593.75V1597.75M1046.78 1593.75V1597.75M1038.27 1593.75V1597.75M1031.18 1593.75V1599.25M1025.5 1593.75V1597.75M1020.3 1593.75V1597.75M1015.57 1593.75V1597.75M1012.74 1593.75V1597.75M1168.52 1593.75V1597.75M1180.76 1593.75V1597.75M1189.44 1593.75V1597.75M1196.18 1593.75V1599.25M1201.68 1593.75V1597.75M1206.33 1593.75V1597.75M1210.36 1593.75V1597.75M1213.92 1593.75V1597.75M1235.07 1593.75V1597.75M1245.58 1593.75V1597.75M1253.04 1593.75V1597.75M1258.83 1593.75V1599.25M1263.56 1593.75V1597.75M1267.55 1593.75V1597.75M1271.01 1593.75V1597.75M1274.07 1593.75V1597.75" stroke="#222" stroke-width="1.5" fill="none"/>
<path d="M989.65 1508H994.25V1517H989.65ZM986.25 1510.5h8v4h-8z" fill="#0a0a0a"/>
<path d="M1069 1593.75H1089.1V1598.35H1069ZM1076.55 1593.75h5v8h-5z" fill="#0a0a0a"/>
<text class="tk" font-size="10.8" x="980.75" y="1320.95" text-anchor="end">10<tspan dy="-6.5" dx="0.6" font-size="11">6</tspan></text>
<text class="tk" font-size="10.8" x="980.75" y="1366.5" text-anchor="end">10<tspan dy="-6.5" dx="0.6" font-size="11">5</tspan></text>
<text class="tk" font-size="10.8" x="980.75" y="1428" text-anchor="end">10<tspan dy="-6.5" dx="0.6" font-size="11">4</tspan></text>
<text class="tk" font-size="10.8" x="980.75" y="1518.5" text-anchor="end">0</text>
<text class="tk" font-size="10.8" x="1019.5" y="1620.05" text-anchor="middle">-10<tspan dy="-6.5" dx="0.6" font-size="11">4</tspan></text>
<text class="tk" font-size="10.8" x="1083.75" y="1620.05" text-anchor="middle">0</text>
<text class="tk" font-size="10.8" x="1156.5" y="1620.05" text-anchor="middle">10<tspan dy="-6.5" dx="0.6" font-size="11">4</tspan></text>
<text class="tk" font-size="10.8" x="1227" y="1620.05" text-anchor="middle">10<tspan dy="-6.5" dx="0.6" font-size="11">5</tspan></text>
<text class="tk" font-size="10.8" x="1269.5" y="1620.05" text-anchor="middle">10<tspan dy="-6.5" dx="0.6" font-size="11">6</tspan></text>
<text class="q" font-size="24" x="1012.2" y="1340.5" textLength="49.2" lengthAdjust="spacingAndGlyphs">14.0</text>
<text class="q" font-size="24" x="1204.7" y="1342.5" textLength="63.2" lengthAdjust="spacingAndGlyphs">0.019</text>
<text class="q" font-size="24" x="1007.95" y="1581.75" textLength="49.7" lengthAdjust="spacingAndGlyphs">85.9</text>
<text class="q" font-size="24" x="1206.7" y="1580" textLength="49.2" lengthAdjust="spacingAndGlyphs">0.11</text>
<text class="ax" font-size="34" transform="translate(951.25 1540.5) rotate(-90)" textLength="186.75" lengthAdjust="spacingAndGlyphs">CD161 - PC7</text>
<text class="ax" font-size="34" x="1036.5" y="1657" textLength="212.75" lengthAdjust="spacingAndGlyphs">CCR6 - BV605</text>
</g>
<g id="FB4">
<g filter="url(#flFB4)">
<rect x="1448.75" y="1303.75" width="286.25" height="290" fill="none"/>
<clipPath id="cpFB4"><rect x="1448.75" y="1303.75" width="218.25" height="290"/></clipPath>
<g clip-path="url(#cpFB4)">
<ellipse cx="1638.5" cy="1492" rx="45.83" ry="42.31" fill="url(#gg2)" opacity="1.0"/>
<ellipse cx="1612.5" cy="1480" rx="61.7" ry="48.48" fill="url(#gg2)" opacity="0.3"/>
<ellipse cx="1622.5" cy="1423" rx="66.11" ry="35.26" fill="url(#gg2)" opacity="0.5" transform="rotate(41 1622.5 1423)"/>
<ellipse cx="1645" cy="1460" rx="26.44" ry="61.7" fill="url(#gg2)" opacity="0.42"/>
<ellipse cx="1625" cy="1440" rx="63.7" ry="75.28" fill="url(#gg3)" opacity="0.08"/>
<ellipse cx="1553.75" cy="1416.25" rx="55.02" ry="55.02" fill="url(#gg3)" opacity="0.07"/>
<ellipse cx="1558.75" cy="1488.75" rx="52.12" ry="57.91" fill="url(#gg3)" opacity="0.07"/>
</g>
</g>
<path d="M1459.5 1447.5h0M1518.5 1449.5h0M1503.5 1410.5h0M1494.5 1443.5h0M1521.5 1459.5h0M1499.5 1433.5h0M1480.5 1454.5h0M1538.5 1475.5h0M1509.5 1443.5h0M1492.5 1419.5h0M1514.5 1449.5h0M1487.5 1436.5h0M1525.5 1495.5h0M1521.5 1458.5h0M1535.5 1470.5h0M1472.5 1490.5h0M1511.5 1439.5h0M1479.5 1450.5h0M1495.5 1505.5h0M1510.5 1491.5h0M1473.5 1442.5h0M1522.5 1485.5h0M1517.5 1442.5h0M1484.5 1444.5h0M1537.5 1457.5h0M1485.5 1481.5h0M1495.5 1495.5h0M1497.5 1430.5h0M1503.5 1451.5h0M1468.5 1437.5h0M1470.5 1481.5h0M1529.5 1445.5h0M1488.5 1466.5h0M1499.5 1471.5h0M1511.5 1467.5h0M1515.5 1425.5h0M1502.5 1446.5h0M1508.5 1449.5h0M1505.5 1400.5h0M1487.5 1430.5h0M1673.5 1460.5h0M1670.5 1438.5h0M1670.5 1450.5h0M1673.5 1476.5h0M1671.5 1420.5h0M1669.5 1476.5h0M1668.5 1442.5h0M1672.5 1433.5h0M1671.5 1472.5h0M1672.5 1460.5h0M1672.5 1416.5h0M1670.5 1489.5h0M1676.5 1438.5h0M1670.5 1436.5h0M1677.5 1454.5h0M1671.5 1481.5h0M1669.5 1435.5h0M1670.5 1452.5h0M1668.5 1433.5h0M1672.5 1422.5h0M1669.5 1466.5h0M1669.5 1447.5h0M1674.5 1456.5h0M1678.5 1450.5h0M1667.5 1465.5h0M1673.5 1477.5h0M1667.5 1449.5h0M1675.5 1460.5h0M1676.5 1432.5h0M1673.5 1454.5h0M1677.5 1423.5h0M1676.5 1461.5h0M1672.5 1433.5h0M1668.5 1407.5h0M1673.5 1424.5h0M1676.5 1468.5h0M1673.5 1489.5h0M1672.5 1482.5h0M1666.5 1439.5h0M1675.5 1450.5h0M1677.5 1457.5h0M1669.5 1497.5h0M1672.5 1448.5h0M1672.5 1430.5h0M1671.5 1479.5h0M1670.5 1449.5h0M1669.5 1455.5h0M1674.5 1471.5h0M1671.5 1431.5h0M1673.5 1482.5h0M1672.5 1438.5h0M1671.5 1485.5h0M1669.5 1449.5h0M1667.5 1447.5h0M1674.5 1486.5h0M1674.5 1486.5h0M1670.5 1504.5h0M1668.5 1477.5h0M1674.5 1496.5h0M1673.5 1423.5h0M1670.5 1500.5h0M1672.5 1401.5h0M1671.5 1476.5h0M1672.5 1474.5h0M1674.5 1455.5h0M1669.5 1456.5h0M1674.5 1436.5h0M1675.5 1467.5h0M1672.5 1428.5h0M1677.5 1443.5h0M1596.5 1391.5h0M1629.5 1382.5h0M1615.5 1386.5h0M1591.5 1379.5h0M1613.5 1382.5h0M1620.5 1381.5h0M1609.5 1386.5h0M1614.5 1388.5h0M1633.5 1386.5h0M1636.5 1387.5h0M1590.5 1385.5h0M1609.5 1388.5h0M1610.5 1382.5h0M1614.5 1388.5h0M1613.5 1390.5h0M1594.5 1387.5h0M1619.5 1390.5h0M1589.5 1385.5h0M1603.5 1383.5h0M1633.5 1380.5h0M1612.5 1388.5h0M1573.5 1385.5h0M1605.5 1382.5h0M1623.5 1381.5h0M1591.5 1385.5h0M1631.5 1384.5h0M1621.5 1384.5h0M1630.5 1385.5h0M1614.5 1387.5h0M1619.5 1385.5h0M1602.5 1385.5h0M1602.5 1389.5h0M1608.5 1388.5h0M1599.5 1387.5h0M1580.5 1382.5h0M1632.5 1385.5h0M1605.5 1382.5h0M1640.5 1383.5h0M1624.5 1387.5h0M1593.5 1385.5h0" stroke="#3030ff" stroke-width="1.9" stroke-linecap="round" fill="none" opacity=".6"/>
<rect x="1448.75" y="1303.75" width="286.25" height="290" fill="none" stroke="#555" stroke-width="1.4"/>
<path d="M1448.75 1303.75V1593.75" stroke="#2a2a2a" stroke-width="1.8" fill="none"/>
<path d="M1735 1303.05V1594.45" stroke="#111" stroke-width="2.7" fill="none"/>
<path d="M1583 1303.75V1593.75M1448.75 1451.5H1735" stroke="#0a0a0a" stroke-width="2.3" fill="none"/>
<path d="M1440.75 1577.5H1448.75M1440.75 1516.25H1448.75M1440.75 1496.25H1448.75M1440.75 1438.25H1448.75M1440.75 1366.25H1448.75M1440.75 1303.75H1448.75M1444.75 1487.67H1448.75M1444.75 1478.85H1448.75M1444.75 1471.31H1448.75M1443.25 1463.19H1448.75M1444.75 1457.04H1448.75M1444.75 1451.71H1448.75M1444.75 1446.83H1448.75M1444.75 1442.31H1448.75M1444.75 1525.32H1448.75M1444.75 1534.62H1448.75M1444.75 1542.59H1448.75M1443.25 1551.16H1448.75M1444.75 1557.65H1448.75M1444.75 1563.29H1448.75M1444.75 1568.43H1448.75M1444.75 1573.21H1448.75M1444.75 1416.58H1448.75M1444.75 1403.9H1448.75M1444.75 1394.9H1448.75M1443.25 1387.92H1448.75M1444.75 1382.22H1448.75M1444.75 1377.4H1448.75M1444.75 1373.23H1448.75M1444.75 1369.54H1448.75M1444.75 1347.44H1448.75M1444.75 1336.43H1448.75M1444.75 1328.62H1448.75M1443.25 1322.56H1448.75M1444.75 1317.62H1448.75M1444.75 1313.43H1448.75M1444.75 1309.81H1448.75M1444.75 1306.61H1448.75M1464.7 1593.75V1601.75M1523.3 1593.75V1601.75M1543.7 1593.75V1601.75M1602.4 1593.75V1601.75M1671.9 1593.75V1601.75M1731.5 1593.75V1601.75M1555.91 1593.75V1597.75M1565.77 1593.75V1597.75M1574.22 1593.75V1597.75M1581.27 1593.75V1599.25M1586.9 1593.75V1597.75M1592.07 1593.75V1597.75M1596.76 1593.75V1597.75M1599.58 1593.75V1597.75M1511.11 1593.75V1597.75M1501.27 1593.75V1597.75M1492.83 1593.75V1597.75M1485.8 1593.75V1599.25M1480.17 1593.75V1597.75M1475.01 1593.75V1597.75M1470.33 1593.75V1597.75M1467.51 1593.75V1597.75M1623.32 1593.75V1597.75M1635.56 1593.75V1597.75M1644.24 1593.75V1597.75M1650.98 1593.75V1599.25M1656.48 1593.75V1597.75M1661.13 1593.75V1597.75M1665.16 1593.75V1597.75M1668.72 1593.75V1597.75M1689.84 1593.75V1597.75M1700.34 1593.75V1597.75M1707.78 1593.75V1597.75M1713.56 1593.75V1599.25M1718.28 1593.75V1597.75M1722.27 1593.75V1597.75M1725.72 1593.75V1597.75M1728.77 1593.75V1597.75" stroke="#222" stroke-width="1.5" fill="none"/>
<path d="M1444.15 1496.25H1448.75V1516.25H1444.15ZM1440.75 1504.25h8v4h-8z" fill="#0a0a0a"/>
<path d="M1523.3 1593.75H1543.7V1598.35H1523.3ZM1531 1593.75h5v8h-5z" fill="#0a0a0a"/>
<text class="tk" font-size="10.8" x="1435.25" y="1320.95" text-anchor="end">10<tspan dy="-6.5" dx="0.6" font-size="11">6</tspan></text>
<text class="tk" font-size="10.8" x="1435.25" y="1372.25" text-anchor="end">10<tspan dy="-6.5" dx="0.6" font-size="11">5</tspan></text>
<text class="tk" font-size="10.8" x="1435.25" y="1444.25" text-anchor="end">10<tspan dy="-6.5" dx="0.6" font-size="11">4</tspan></text>
<text class="tk" font-size="10.8" x="1435.25" y="1512.25" text-anchor="end">0</text>
<text class="tk" font-size="10.8" x="1435.25" y="1583.5" text-anchor="end">-10<tspan dy="-6.5" dx="0.6" font-size="11">4</tspan></text>
<text class="tk" font-size="10.8" x="1474.5" y="1620.05" text-anchor="middle">-10<tspan dy="-6.5" dx="0.6" font-size="11">4</tspan></text>
<text class="tk" font-size="10.8" x="1538.25" y="1620.05" text-anchor="middle">0</text>
<text class="tk" font-size="10.8" x="1611" y="1620.05" text-anchor="middle">10<tspan dy="-6.5" dx="0.6" font-size="11">4</tspan></text>
<text class="tk" font-size="10.8" x="1681.25" y="1620.05" text-anchor="middle">10<tspan dy="-6.5" dx="0.6" font-size="11">5</tspan></text>
<text class="tk" font-size="10.8" x="1724" y="1620.05" text-anchor="middle">10<tspan dy="-6.5" dx="0.6" font-size="11">6</tspan></text>
<text class="q" font-size="24" x="1469.2" y="1338" textLength="49.2" lengthAdjust="spacingAndGlyphs">3.27</text>
<text class="q" font-size="24" x="1670.95" y="1341.75" textLength="49.2" lengthAdjust="spacingAndGlyphs">27.2</text>
<text class="q" font-size="24" x="1469.2" y="1578.75" textLength="49.2" lengthAdjust="spacingAndGlyphs">2.79</text>
<text class="q" font-size="24" x="1664.7" y="1577.5" textLength="49.7" lengthAdjust="spacingAndGlyphs">66.8</text>
<text class="ax" font-size="34" transform="translate(1395.75 1541) rotate(-90)" textLength="181" lengthAdjust="spacingAndGlyphs">TBET - APC</text>
<text class="ax" font-size="34" x="1502.75" y="1657" textLength="180" lengthAdjust="spacingAndGlyphs">CXCR4 - PE</text>
</g>
<g id="A1">
<path d="M115.5 483.9V726.1M108.9 725.5H357.02M108.9 484.5H115.5M108.9 545.5H115.5M108.9 605.5H115.5M108.9 665.5H115.5" stroke="#000" stroke-width="1.25" fill="none"/>
<text class="tl" font-size="24.6" x="105.8" y="492.9" text-anchor="end" textLength="25.14" lengthAdjust="spacingAndGlyphs">20</text>
<text class="tl" font-size="24.6" x="105.8" y="553.9" text-anchor="end" textLength="25.14" lengthAdjust="spacingAndGlyphs">15</text>
<text class="tl" font-size="24.6" x="105.8" y="613.9" text-anchor="end" textLength="25.14" lengthAdjust="spacingAndGlyphs">10</text>
<text class="tl" font-size="24.6" x="105.8" y="673.9" text-anchor="end" textLength="12.57" lengthAdjust="spacingAndGlyphs">5</text>
<text class="tl" font-size="24.6" x="105.8" y="733.9" text-anchor="end" textLength="12.57" lengthAdjust="spacingAndGlyphs">0</text>
<text class="yl" font-size="39.52" transform="translate(51.28 673.79) rotate(-90)" textLength="172.43" lengthAdjust="spacingAndGlyphs">% CCR4+</text>
<path d="M155.26 569.48V653.85M141.86 569.48H168.66M141.86 653.85H168.66M128.36 611.77H182.16" stroke="#000" stroke-width="2.6" fill="none"/>
<g fill="#FF8080" stroke="#000" stroke-width="1.3"><circle cx="155.26" cy="556.81" r="7.15"/><circle cx="155.26" cy="600.24" r="7.15"/><circle cx="136.04" cy="646.83" r="7.15"/><circle cx="174.94" cy="643.21" r="7.15"/></g>
<g fill="#00BE00" stroke="#000" stroke-width="1.3"><rect x="225.04" y="552.17" width="13.8" height="13.8"/><rect x="217.35" y="566.2" width="13.8" height="13.8"/><rect x="248.79" y="570.27" width="13.8" height="13.8"/><rect x="209.43" y="570.72" width="13.8" height="13.8"/><rect x="240.42" y="578.64" width="13.8" height="13.8"/><rect x="217.35" y="583.16" width="13.8" height="13.8"/><rect x="232.5" y="583.16" width="13.8" height="13.8"/><rect x="225.04" y="595.6" width="13.8" height="13.8"/><rect x="217.35" y="606.91" width="13.8" height="13.8"/><rect x="232.5" y="606.91" width="13.8" height="13.8"/><rect x="248.79" y="608.04" width="13.8" height="13.8"/><rect x="209.43" y="614.83" width="13.8" height="13.8"/><rect x="225.04" y="614.83" width="13.8" height="13.8"/><rect x="240.42" y="615.96" width="13.8" height="13.8"/></g>
<path d="M235.56 576.04V617.65M222.16 576.04H248.96M222.16 617.65H248.96M208.66 597.07H262.46" stroke="#000" stroke-width="2.6" fill="none"/>
<path d="M316.08 539.62V635.3M302.68 539.62H329.48M302.68 635.3H329.48M289.18 587.12H342.98" stroke="#000" stroke-width="2.6" fill="none"/>
<g fill="#4F9EF8" stroke="#000" stroke-width="1.3"><path d="M316.08 512.04L323.98 527.74H308.18Z"/><path d="M316.08 531.27L323.98 546.97H308.18Z"/><path d="M297.76 544.39L305.66 560.09H289.86Z"/><path d="M334.4 544.39L342.3 560.09H326.5Z"/><path d="M316.08 559.09L323.98 574.79H308.18Z"/><path d="M297.76 591.66L305.66 607.36H289.86Z"/><path d="M334.4 601.39L342.3 617.09H326.5Z"/><path d="M316.08 632.6L323.98 648.3H308.18Z"/><path d="M297.76 641.42L305.66 657.12H289.86Z"/><path d="M334.4 640.97L342.3 656.67H326.5Z"/></g>
</g>
<g id="A2">
<path d="M490.5 483.9V727.1M483.9 726.5H732.4M483.9 484.5H490.5M483.9 545.5H490.5M483.9 605.5H490.5M483.9 666.5H490.5" stroke="#000" stroke-width="1.25" fill="none"/>
<text class="tl" font-size="24.6" x="480.8" y="492.9" text-anchor="end" textLength="25.14" lengthAdjust="spacingAndGlyphs">20</text>
<text class="tl" font-size="24.6" x="480.8" y="553.9" text-anchor="end" textLength="25.14" lengthAdjust="spacingAndGlyphs">15</text>
<text class="tl" font-size="24.6" x="480.8" y="613.9" text-anchor="end" textLength="25.14" lengthAdjust="spacingAndGlyphs">10</text>
<text class="tl" font-size="24.6" x="480.8" y="674.9" text-anchor="end" textLength="12.57" lengthAdjust="spacingAndGlyphs">5</text>
<text class="tl" font-size="24.6" x="480.8" y="734.9" text-anchor="end" textLength="12.57" lengthAdjust="spacingAndGlyphs">0</text>
<text class="yl" font-size="39.52" transform="translate(426.44 681.7) rotate(-90)" textLength="171.07" lengthAdjust="spacingAndGlyphs">% CCR6+</text>
<g fill="#FF8080" stroke="#000" stroke-width="1.3"><circle cx="530.64" cy="514.29" r="7.15"/><circle cx="530.64" cy="592.77" r="7.15"/><circle cx="530.64" cy="611.55" r="7.15"/><circle cx="530.64" cy="639.14" r="7.15"/></g>
<path d="M530.64 535.32V642.54M517.24 535.32H544.04M517.24 642.54H544.04M503.74 589.15H557.54" stroke="#000" stroke-width="2.6" fill="none"/>
<g fill="#00BE00" stroke="#000" stroke-width="1.3"><rect x="608.34" y="536.11" width="13.8" height="13.8"/><rect x="592.5" y="543.12" width="13.8" height="13.8"/><rect x="599.97" y="544.71" width="13.8" height="13.8"/><rect x="608.34" y="554.43" width="13.8" height="13.8"/><rect x="584.59" y="572.3" width="13.8" height="13.8"/><rect x="623.72" y="574.56" width="13.8" height="13.8"/><rect x="592.5" y="580.22" width="13.8" height="13.8"/><rect x="608.34" y="580.9" width="13.8" height="13.8"/><rect x="616.25" y="581.58" width="13.8" height="13.8"/><rect x="599.97" y="583.16" width="13.8" height="13.8"/><rect x="599.97" y="614.83" width="13.8" height="13.8"/><rect x="599.97" y="623.2" width="13.8" height="13.8"/><rect x="599.97" y="630.66" width="13.8" height="13.8"/><rect x="608.34" y="658.93" width="13.8" height="13.8"/><rect x="599.97" y="663.46" width="13.8" height="13.8"/></g>
<path d="M610.94 553.19V634.62M597.54 553.19H624.34M597.54 634.62H624.34M584.04 594.13H637.84" stroke="#000" stroke-width="2.6" fill="none"/>
<g fill="#4F9EF8" stroke="#000" stroke-width="1.3"><path d="M697.35 517.7L705.25 533.4H689.45Z"/><path d="M685.36 562.25L693.26 577.95H677.46Z"/><path d="M673.14 569.04L681.04 584.74H665.24Z"/><path d="M709.79 574.24L717.69 589.94H701.89Z"/><path d="M697.35 578.77L705.25 594.47H689.45Z"/><path d="M685.36 582.16L693.26 597.86H677.46Z"/><path d="M673.14 600.71L681.04 616.41H665.24Z"/><path d="M709.79 611.56L717.69 627.26H701.89Z"/><path d="M697.35 617.67L705.25 633.37H689.45Z"/><path d="M673.14 625.59L681.04 641.29H665.24Z"/></g>
<path d="M691.46 559.52V622.86M678.06 559.52H704.86M678.06 622.86H704.86M664.56 591.19H718.36" stroke="#000" stroke-width="2.6" fill="none"/>
</g>
<g id="A3">
<path d="M848.5 485.9V729.1M841.9 728.5H1090.14M841.9 486.5H848.5M841.9 547.5H848.5M841.9 607.5H848.5M841.9 667.5H848.5" stroke="#000" stroke-width="1.25" fill="none"/>
<text class="tl" font-size="24.6" x="838.8" y="494.9" text-anchor="end" textLength="25.14" lengthAdjust="spacingAndGlyphs">20</text>
<text class="tl" font-size="24.6" x="838.8" y="555.9" text-anchor="end" textLength="25.14" lengthAdjust="spacingAndGlyphs">15</text>
<text class="tl" font-size="24.6" x="838.8" y="615.9" text-anchor="end" textLength="25.14" lengthAdjust="spacingAndGlyphs">10</text>
<text class="tl" font-size="24.6" x="838.8" y="675.9" text-anchor="end" textLength="12.57" lengthAdjust="spacingAndGlyphs">5</text>
<text class="tl" font-size="24.6" x="838.8" y="736.9" text-anchor="end" textLength="12.57" lengthAdjust="spacingAndGlyphs">0</text>
<text class="yl" font-size="39.52" transform="translate(781.91 688.49) rotate(-90)" textLength="201.15" lengthAdjust="spacingAndGlyphs">% CD161++</text>
<g fill="#FF8080" stroke="#000" stroke-width="1.3"><circle cx="888.15" cy="590.29" r="7.15"/><circle cx="888.15" cy="636.43" r="7.15"/><circle cx="888.15" cy="669.9" r="7.15"/><circle cx="888.15" cy="697.5" r="7.15"/></g>
<path d="M888.15 602.27V694.56M874.75 602.27H901.55M874.75 694.56H901.55M861.25 648.19H915.05" stroke="#000" stroke-width="2.6" fill="none"/>
<g fill="#00BE00" stroke="#000" stroke-width="1.3"><rect x="962" y="531.59" width="13.8" height="13.8"/><rect x="962" y="548.1" width="13.8" height="13.8"/><rect x="962" y="598.99" width="13.8" height="13.8"/><rect x="971.28" y="612.11" width="13.8" height="13.8"/><rect x="941.87" y="625" width="13.8" height="13.8"/><rect x="981.23" y="626.14" width="13.8" height="13.8"/><rect x="962" y="630.21" width="13.8" height="13.8"/><rect x="952.05" y="631.79" width="13.8" height="13.8"/><rect x="971.28" y="639.71" width="13.8" height="13.8"/><rect x="952.05" y="645.81" width="13.8" height="13.8"/><rect x="971.28" y="658.93" width="13.8" height="13.8"/><rect x="962" y="666.4" width="13.8" height="13.8"/><rect x="971.28" y="683.14" width="13.8" height="13.8"/><rect x="952.05" y="687.21" width="13.8" height="13.8"/></g>
<path d="M968.45 589.38V679.18M955.05 589.38H981.85M955.05 679.18H981.85M941.55 634.62H995.35" stroke="#000" stroke-width="2.6" fill="none"/>
<g fill="#4F9EF8" stroke="#000" stroke-width="1.3"><path d="M1030.65 598.45L1038.55 614.15H1022.75Z"/><path d="M1048.98 595.73L1056.88 611.43H1041.08Z"/><path d="M1048.98 619.48L1056.88 635.18H1041.08Z"/><path d="M1030.65 630.79L1038.55 646.49H1022.75Z"/><path d="M1067.3 637.12L1075.2 652.82H1059.4Z"/><path d="M1048.98 636.45L1056.88 652.15H1041.08Z"/><path d="M1030.65 654.99L1038.55 670.69H1022.75Z"/><path d="M1048.98 654.54L1056.88 670.24H1041.08Z"/><path d="M1067.3 655.67L1075.2 671.37H1059.4Z"/><path d="M1048.98 690.05L1056.88 705.75H1041.08Z"/></g>
<path d="M1048.98 616.07V672.85M1035.58 616.07H1062.38M1035.58 672.85H1062.38M1022.08 645.02H1075.88" stroke="#000" stroke-width="2.6" fill="none"/>
</g>
<g id="A4">
<path d="M1196.5 491.9V726.1M1190.12 725.5H1430.64M1190.12 492.5H1196.5M1190.12 550.5H1196.5M1190.12 608.5H1196.5M1190.12 667.5H1196.5" stroke="#000" stroke-width="1.25" fill="none"/>
<text class="tl" font-size="23.76" x="1187.13" y="500.61" text-anchor="end" textLength="24.28" lengthAdjust="spacingAndGlyphs">20</text>
<text class="tl" font-size="23.76" x="1187.13" y="558.61" text-anchor="end" textLength="24.28" lengthAdjust="spacingAndGlyphs">15</text>
<text class="tl" font-size="23.76" x="1187.13" y="616.61" text-anchor="end" textLength="24.28" lengthAdjust="spacingAndGlyphs">10</text>
<text class="tl" font-size="23.76" x="1187.13" y="675.61" text-anchor="end" textLength="12.14" lengthAdjust="spacingAndGlyphs">5</text>
<text class="tl" font-size="23.76" x="1187.13" y="733.61" text-anchor="end" textLength="12.14" lengthAdjust="spacingAndGlyphs">0</text>
<text class="yl" font-size="39.52" transform="translate(1133.05 688.49) rotate(-90)" textLength="197.76" lengthAdjust="spacingAndGlyphs">% CXCR3+</text>
<g fill="#FF8080" stroke="#000" stroke-width="1.26"><circle cx="1235.21" cy="544.6" r="6.69"/><circle cx="1216.21" cy="571.06" r="6.69"/><circle cx="1235.21" cy="581.46" r="6.69"/><circle cx="1235.21" cy="673.75" r="6.69"/></g>
<path d="M1235.21 536.23V648.64M1222.27 536.23H1248.16M1222.27 648.64H1248.16M1209.23 592.32H1261.2" stroke="#000" stroke-width="2.51" fill="none"/>
<g fill="#00BE00" stroke="#000" stroke-width="1.26"><rect x="1306.79" y="535.2" width="12.92" height="12.92"/><rect x="1325.79" y="570.71" width="12.92" height="12.92"/><rect x="1306.79" y="580.66" width="12.92" height="12.92"/><rect x="1325.79" y="596.04" width="12.92" height="12.92"/><rect x="1306.79" y="604.64" width="12.92" height="12.92"/><rect x="1288.02" y="607.8" width="12.92" height="12.92"/><rect x="1288.02" y="640.15" width="12.92" height="12.92"/><rect x="1325.79" y="640.83" width="12.92" height="12.92"/><rect x="1306.79" y="644.67" width="12.92" height="12.92"/><rect x="1325.79" y="654.85" width="12.92" height="12.92"/><rect x="1306.79" y="663.45" width="12.92" height="12.92"/><rect x="1288.02" y="670.01" width="12.92" height="12.92"/><rect x="1325.79" y="670.01" width="12.92" height="12.92"/></g>
<path d="M1313.25 585.08V670.36M1300.31 585.08H1326.19M1300.31 670.36H1326.19M1287.26 628.06H1339.24" stroke="#000" stroke-width="2.51" fill="none"/>
<g fill="#4F9EF8" stroke="#000" stroke-width="1.26"><path d="M1390.83 527.25L1398.23 541.94H1383.44Z"/><path d="M1390.83 568.64L1398.23 583.34H1383.44Z"/><path d="M1390.83 601.21L1398.23 615.91H1383.44Z"/><path d="M1390.83 620.67L1398.23 635.36H1383.44Z"/><path d="M1408.48 636.27L1415.87 650.97H1401.08Z"/><path d="M1390.83 640.34L1398.23 655.04H1383.44Z"/><path d="M1372.96 648.94L1380.36 663.63H1365.57Z"/><path d="M1390.83 660.02L1398.23 674.72H1383.44Z"/><path d="M1408.48 694.63L1415.87 709.32H1401.08Z"/><path d="M1372.96 701.42L1380.36 716.11H1365.57Z"/></g>
<path d="M1390.83 582.82V690.04M1377.89 582.82H1403.78M1377.89 690.04H1403.78M1364.85 635.98H1416.82" stroke="#000" stroke-width="2.51" fill="none"/>
</g>
<g id="A5">
<path d="M1540.5 499.9V723.1M1534.43 722.5H1763M1534.43 500.5H1540.5M1534.43 574.5H1540.5M1534.43 648.5H1540.5" stroke="#000" stroke-width="1.25" fill="none"/>
<text class="tl" font-size="22.63" x="1531.58" y="508.23" text-anchor="end" textLength="23.13" lengthAdjust="spacingAndGlyphs">60</text>
<text class="tl" font-size="22.63" x="1531.58" y="582.23" text-anchor="end" textLength="23.13" lengthAdjust="spacingAndGlyphs">40</text>
<text class="tl" font-size="22.63" x="1531.58" y="656.23" text-anchor="end" textLength="23.13" lengthAdjust="spacingAndGlyphs">20</text>
<text class="tl" font-size="22.63" x="1531.58" y="730.23" text-anchor="end" textLength="11.56" lengthAdjust="spacingAndGlyphs">0</text>
<text class="yl" font-size="39.52" transform="translate(1488.7 686.23) rotate(-90)" textLength="198.89" lengthAdjust="spacingAndGlyphs">% GATA3+</text>
<g fill="#FF8080" stroke="#000" stroke-width="1.2"><circle cx="1577.3" cy="705.87" r="6.36"/><circle cx="1595.62" cy="708.13" r="6.36"/></g>
<path d="M1577.3 697.5V716.05M1564.97 697.5H1589.63M1564.97 716.05H1589.63M1552.55 706.77H1602.05" stroke="#000" stroke-width="2.39" fill="none"/>
<g fill="#FF8080" stroke="#000" stroke-width="1.2"><circle cx="1558.98" cy="695.24" r="6.36"/><circle cx="1558.98" cy="717.86" r="6.36"/></g>
<g fill="#00BE00" stroke="#000" stroke-width="1.2"><rect x="1644.89" y="667.61" width="12.28" height="12.28"/><rect x="1638.79" y="676.2" width="12.28" height="12.28"/><rect x="1632.91" y="679.6" width="12.28" height="12.28"/><rect x="1651" y="680.73" width="12.28" height="12.28"/><rect x="1644.89" y="685.7" width="12.28" height="12.28"/><rect x="1657.11" y="689.1" width="12.28" height="12.28"/><rect x="1632.91" y="701.54" width="12.28" height="12.28"/><rect x="1644.89" y="704.93" width="12.28" height="12.28"/><rect x="1657.11" y="705.38" width="12.28" height="12.28"/><rect x="1626.57" y="708.32" width="12.28" height="12.28"/><rect x="1638.79" y="706.06" width="12.28" height="12.28"/><rect x="1663.22" y="710.13" width="12.28" height="12.28"/><rect x="1651" y="714.66" width="12.28" height="12.28"/></g>
<path d="M1651.04 686.19V716.27M1638.71 686.19H1663.36M1638.71 716.27H1663.36M1626.29 701.35H1675.78" stroke="#000" stroke-width="2.39" fill="none"/>
<g fill="#4F9EF8" stroke="#000" stroke-width="1.2"><path d="M1725.45 533.27L1732.48 547.24H1718.42Z"/><path d="M1708.49 641.39L1715.52 655.36H1701.46Z"/><path d="M1725.45 657.67L1732.48 671.64H1718.42Z"/><path d="M1742.42 657.67L1749.45 671.64H1735.39Z"/><path d="M1708.49 671.7L1715.52 685.67H1701.46Z"/><path d="M1742.42 680.29L1749.45 694.26H1735.39Z"/><path d="M1708.49 690.92L1715.52 704.89H1701.46Z"/><path d="M1725.45 701.78L1732.48 715.75H1718.42Z"/><path d="M1742.42 706.75L1749.45 720.73H1735.39Z"/><path d="M1708.49 715.35L1715.52 729.32H1701.46Z"/></g>
<path d="M1725.45 619.69V721.7M1713.12 619.69H1737.78M1713.12 721.7H1737.78M1700.7 671.94H1750.2" stroke="#000" stroke-width="2.39" fill="none"/>
</g>
<g id="A6">
<path d="M117.5 823.9V1068.1M110.9 1067.5H360.64M110.9 824.5H117.5M110.9 885.5H117.5M110.9 945.5H117.5M110.9 1006.5H117.5" stroke="#000" stroke-width="1.25" fill="none"/>
<text class="tl" font-size="24.6" x="107.8" y="832.9" text-anchor="end" textLength="25.14" lengthAdjust="spacingAndGlyphs">20</text>
<text class="tl" font-size="24.6" x="107.8" y="893.9" text-anchor="end" textLength="25.14" lengthAdjust="spacingAndGlyphs">15</text>
<text class="tl" font-size="24.6" x="107.8" y="953.9" text-anchor="end" textLength="25.14" lengthAdjust="spacingAndGlyphs">10</text>
<text class="tl" font-size="24.6" x="107.8" y="1014.9" text-anchor="end" textLength="12.57" lengthAdjust="spacingAndGlyphs">5</text>
<text class="tl" font-size="24.6" x="107.8" y="1075.9" text-anchor="end" textLength="12.57" lengthAdjust="spacingAndGlyphs">0</text>
<text class="yl" font-size="39.52" transform="translate(68.7 1023.97) rotate(-90)" textLength="170.62" lengthAdjust="spacingAndGlyphs">% TBET+</text>
<g fill="#FF8080" stroke="#000" stroke-width="1.3"><circle cx="157.3" cy="1039.08" r="7.15"/><circle cx="137.62" cy="1061.25" r="7.15"/><circle cx="157.3" cy="1061.25" r="7.15"/><circle cx="177.2" cy="1061.25" r="7.15"/></g>
<path d="M157.3 1044.96V1067.13M143.9 1044.96H170.7M143.9 1067.13H170.7M130.4 1055.14H184.2" stroke="#000" stroke-width="2.6" fill="none"/>
<g fill="#00BE00" stroke="#000" stroke-width="1.3"><rect x="237.71" y="974.73" width="13.8" height="13.8"/><rect x="230.92" y="986.49" width="13.8" height="13.8"/><rect x="224.14" y="1026.08" width="13.8" height="13.8"/><rect x="217.35" y="1030.6" width="13.8" height="13.8"/><rect x="237.71" y="1031.73" width="13.8" height="13.8"/><rect x="217.35" y="1041.91" width="13.8" height="13.8"/><rect x="227.98" y="1049.83" width="13.8" height="13.8"/><rect x="243.81" y="1050.96" width="13.8" height="13.8"/><rect x="234.77" y="1050.96" width="13.8" height="13.8"/><rect x="221.2" y="1052.09" width="13.8" height="13.8"/><rect x="211.7" y="1057.06" width="13.8" height="13.8"/><rect x="251.28" y="1057.29" width="13.8" height="13.8"/><rect x="237.71" y="1058.87" width="13.8" height="13.8"/></g>
<path d="M238.27 1013.75V1067.13M224.87 1013.75H251.67M224.87 1067.13H251.67M211.37 1042.25H265.17" stroke="#000" stroke-width="2.6" fill="none"/>
<g fill="#4F9EF8" stroke="#000" stroke-width="1.3"><path d="M319.25 873.53L327.15 889.23H311.35Z"/><path d="M319.25 901.8L327.15 917.5H311.35Z"/><path d="M300.7 965.59L308.6 981.29H292.8Z"/><path d="M319.25 971.92L327.15 987.62H311.35Z"/><path d="M300.7 986.17L308.6 1001.87H292.8Z"/><path d="M319.25 998.61L327.15 1014.31H311.35Z"/><path d="M319.25 1018.29L327.15 1033.99H311.35Z"/><path d="M319.25 1037.52L327.15 1053.22H311.35Z"/><path d="M337.8 1044.3L345.7 1060H329.9Z"/><path d="M300.7 1057.42L308.6 1073.12H292.8Z"/></g>
<path d="M319.25 933V1053.79M305.85 933H332.65M305.85 1053.79H332.65M292.35 992.94H346.15" stroke="#000" stroke-width="2.6" fill="none"/>
</g>
<g id="A7">
<path d="M481.5 843.9V1069.1M475.48 1068.5H706.39M475.48 844.5H481.5M475.48 900.5H481.5M475.48 956.5H481.5M475.48 1012.5H481.5" stroke="#000" stroke-width="1.25" fill="none"/>
<text class="tl" font-size="22.44" x="472.65" y="852.16" text-anchor="end" textLength="28.65" lengthAdjust="spacingAndGlyphs">0.8</text>
<text class="tl" font-size="22.44" x="472.65" y="908.16" text-anchor="end" textLength="28.65" lengthAdjust="spacingAndGlyphs">0.6</text>
<text class="tl" font-size="22.44" x="472.65" y="964.16" text-anchor="end" textLength="28.65" lengthAdjust="spacingAndGlyphs">0.4</text>
<text class="tl" font-size="22.44" x="472.65" y="1020.16" text-anchor="end" textLength="28.65" lengthAdjust="spacingAndGlyphs">0.2</text>
<text class="tl" font-size="22.44" x="472.65" y="1076.16" text-anchor="end" textLength="28.65" lengthAdjust="spacingAndGlyphs">0.0</text>
<text class="yl" font-size="39.52" transform="translate(415.13 995.69) rotate(-90)" textLength="135.56" lengthAdjust="spacingAndGlyphs">% Th1+</text>
<g fill="#FF8080" stroke="#000" stroke-width="1.19"><circle cx="518.2" cy="1040.89" r="6.31"/><circle cx="536.3" cy="1044.96" r="6.31"/></g>
<path d="M518.2 1037.27V1051.3M505.98 1037.27H530.42M505.98 1051.3H530.42M493.67 1044.29H542.74" stroke="#000" stroke-width="2.37" fill="none"/>
<g fill="#FF8080" stroke="#000" stroke-width="1.19"><circle cx="499.88" cy="1038.18" r="6.31"/><circle cx="499.88" cy="1053.79" r="6.31"/></g>
<g fill="#00BE00" stroke="#000" stroke-width="1.19"><rect x="586.99" y="986.85" width="12.17" height="12.17"/><rect x="592.87" y="1017.84" width="12.17" height="12.17"/><rect x="586.99" y="1029.15" width="12.17" height="12.17"/><rect x="568.66" y="1034.35" width="12.17" height="12.17"/><rect x="598.97" y="1034.81" width="12.17" height="12.17"/><rect x="605.08" y="1041.59" width="12.17" height="12.17"/><rect x="592.87" y="1043.85" width="12.17" height="12.17"/><rect x="574.77" y="1047.25" width="12.17" height="12.17"/><rect x="586.99" y="1049.51" width="12.17" height="12.17"/><rect x="598.97" y="1050.64" width="12.17" height="12.17"/><rect x="568.66" y="1053.58" width="12.17" height="12.17"/><rect x="605.08" y="1056.3" width="12.17" height="12.17"/><rect x="580.88" y="1051.77" width="12.17" height="12.17"/><rect x="592.87" y="1058.56" width="12.17" height="12.17"/></g>
<path d="M593.07 1026.42V1064.19M580.85 1026.42H605.29M580.85 1064.19H605.29M568.54 1045.42H617.6" stroke="#000" stroke-width="2.37" fill="none"/>
<g fill="#4F9EF8" stroke="#000" stroke-width="1.19"><path d="M667.94 882.83L674.91 896.68H660.97Z"/><path d="M650.98 899.34L657.94 913.19H644.01Z"/><path d="M685.13 899.34L692.1 913.19H678.16Z"/><path d="M685.13 1000.68L692.1 1014.52H678.16Z"/><path d="M650.98 1019.9L657.94 1033.75H644.01Z"/><path d="M667.94 1017.64L674.91 1031.49H660.97Z"/><path d="M685.13 1022.62L692.1 1036.46H678.16Z"/><path d="M667.94 1044.1L674.91 1057.95H660.97Z"/><path d="M650.98 1054.96L657.94 1068.81H644.01Z"/><path d="M685.13 1053.83L692.1 1067.68H678.16Z"/></g>
<path d="M667.94 927.8V1063.96M655.72 927.8H680.16M655.72 1063.96H680.16M643.41 995.88H692.47" stroke="#000" stroke-width="2.37" fill="none"/>
</g>
<g id="A8">
<path d="M847.5 839.9V1079.1M840.95 1078.5H1086.52M840.95 840.5H847.5M840.95 887.5H847.5M840.95 935.5H847.5M840.95 983.5H847.5M840.95 1030.5H847.5" stroke="#000" stroke-width="1.25" fill="none"/>
<text class="tl" font-size="24.43" x="837.87" y="848.84" text-anchor="end" textLength="31.2" lengthAdjust="spacingAndGlyphs">1.0</text>
<text class="tl" font-size="24.43" x="837.87" y="895.84" text-anchor="end" textLength="31.2" lengthAdjust="spacingAndGlyphs">0.8</text>
<text class="tl" font-size="24.43" x="837.87" y="943.84" text-anchor="end" textLength="31.2" lengthAdjust="spacingAndGlyphs">0.6</text>
<text class="tl" font-size="24.43" x="837.87" y="991.84" text-anchor="end" textLength="31.2" lengthAdjust="spacingAndGlyphs">0.4</text>
<text class="tl" font-size="24.43" x="837.87" y="1038.84" text-anchor="end" textLength="31.2" lengthAdjust="spacingAndGlyphs">0.2</text>
<text class="tl" font-size="24.43" x="837.87" y="1086.84" text-anchor="end" textLength="31.2" lengthAdjust="spacingAndGlyphs">0.0</text>
<text class="yl" font-size="39.52" transform="translate(780.78 1010.4) rotate(-90)" textLength="135.56" lengthAdjust="spacingAndGlyphs">% Th2+</text>
<g fill="#FF8080" stroke="#000" stroke-width="1.29"><circle cx="867.35" cy="1011.49" r="7.1"/><circle cx="887.02" cy="1021.21" r="7.1"/><circle cx="887.02" cy="1051.75" r="7.1"/><circle cx="887.02" cy="1069.62" r="7.1"/></g>
<path d="M887.02 1011.71V1065.77M873.72 1011.71H900.33M873.72 1065.77H900.33M860.31 1038.63H913.74" stroke="#000" stroke-width="2.58" fill="none"/>
<g fill="#00BE00" stroke="#000" stroke-width="1.29"><rect x="953.01" y="849.24" width="13.7" height="13.7"/><rect x="978.79" y="971.39" width="13.7" height="13.7"/><rect x="952.55" y="975.91" width="13.7" height="13.7"/><rect x="966.35" y="983.15" width="13.7" height="13.7"/><rect x="952.55" y="999.43" width="13.7" height="13.7"/><rect x="940.11" y="1011.87" width="13.7" height="13.7"/><rect x="966.35" y="1030.65" width="13.7" height="13.7"/><rect x="952.55" y="1032.91" width="13.7" height="13.7"/><rect x="978.79" y="1035.62" width="13.7" height="13.7"/><rect x="940.11" y="1044.67" width="13.7" height="13.7"/><rect x="952.55" y="1050.33" width="13.7" height="13.7"/><rect x="978.79" y="1057.11" width="13.7" height="13.7"/><rect x="966.35" y="1062.77" width="13.7" height="13.7"/><rect x="940.11" y="1063.9" width="13.7" height="13.7"/></g>
<path d="M966.19 962.4V1076.4M952.88 962.4H979.5M952.88 1076.4H979.5M939.48 1019.18H992.9" stroke="#000" stroke-width="2.58" fill="none"/>
<g fill="#4F9EF8" stroke="#000" stroke-width="1.29"><path d="M1045.81 849.16L1053.65 864.75H1037.96Z"/><path d="M1027.49 908.64L1035.33 924.23H1019.64Z"/><path d="M1045.81 904.12L1053.65 919.71H1037.96Z"/><path d="M1063.9 913.62L1071.75 929.21H1056.06Z"/><path d="M1045.81 949.81L1053.65 965.4H1037.96Z"/><path d="M1027.49 999.12L1035.33 1014.71H1019.64Z"/><path d="M1045.81 996.86L1053.65 1012.45H1037.96Z"/><path d="M1045.81 1044.81L1053.65 1060.4H1037.96Z"/><path d="M1063.9 1061.32L1071.75 1076.91H1056.06Z"/><path d="M1027.49 1070.82L1035.33 1086.41H1019.64Z"/></g>
<path d="M1045.81 900.88V1052.88M1032.5 900.88H1059.12M1032.5 1052.88H1059.12M1019.1 976.65H1072.52" stroke="#000" stroke-width="2.58" fill="none"/>
</g>
<g id="A9">
<path d="M1202.5 846.9V1073.1M1196.4 1072.5H1427.3M1196.4 847.5H1202.5M1196.4 892.5H1202.5M1196.4 937.5H1202.5M1196.4 982.5H1202.5M1196.4 1027.5H1202.5" stroke="#000" stroke-width="1.25" fill="none"/>
<text class="tl" font-size="22.73" x="1193.54" y="855.26" text-anchor="end" textLength="23.23" lengthAdjust="spacingAndGlyphs">10</text>
<text class="tl" font-size="22.73" x="1193.54" y="900.26" text-anchor="end" textLength="11.61" lengthAdjust="spacingAndGlyphs">8</text>
<text class="tl" font-size="22.73" x="1193.54" y="945.26" text-anchor="end" textLength="11.61" lengthAdjust="spacingAndGlyphs">6</text>
<text class="tl" font-size="22.73" x="1193.54" y="990.26" text-anchor="end" textLength="11.61" lengthAdjust="spacingAndGlyphs">4</text>
<text class="tl" font-size="22.73" x="1193.54" y="1035.26" text-anchor="end" textLength="11.61" lengthAdjust="spacingAndGlyphs">2</text>
<text class="tl" font-size="22.73" x="1193.54" y="1080.26" text-anchor="end" textLength="11.61" lengthAdjust="spacingAndGlyphs">0</text>
<text class="yl" font-size="39.52" transform="translate(1157.75 1030.75) rotate(-90)" textLength="154.79" lengthAdjust="spacingAndGlyphs">% Th17+</text>
<g fill="#FF8080" stroke="#000" stroke-width="1.2"><circle cx="1239.56" cy="962.4" r="6.39"/><circle cx="1221.24" cy="1018.95" r="6.39"/><circle cx="1257.88" cy="1025.96" r="6.39"/><circle cx="1239.56" cy="1055.82" r="6.39"/></g>
<path d="M1239.56 976.65V1054.92M1227.18 976.65H1251.94M1227.18 1054.92H1251.94M1214.7 1015.79H1264.42" stroke="#000" stroke-width="2.4" fill="none"/>
<g fill="#00BE00" stroke="#000" stroke-width="1.2"><rect x="1308.03" y="954.43" width="12.34" height="12.34"/><rect x="1308.03" y="980.44" width="12.34" height="12.34"/><rect x="1326.36" y="981.57" width="12.34" height="12.34"/><rect x="1298.76" y="983.38" width="12.34" height="12.34"/><rect x="1317.08" y="987.9" width="12.34" height="12.34"/><rect x="1289.71" y="988.36" width="12.34" height="12.34"/><rect x="1298.76" y="1012.78" width="12.34" height="12.34"/><rect x="1317.08" y="1014.82" width="12.34" height="12.34"/><rect x="1289.71" y="1015.5" width="12.34" height="12.34"/><rect x="1308.03" y="1018.44" width="12.34" height="12.34"/><rect x="1298.76" y="1027.94" width="12.34" height="12.34"/><rect x="1308.03" y="1038.12" width="12.34" height="12.34"/><rect x="1317.08" y="1041.06" width="12.34" height="12.34"/><rect x="1298.76" y="1045.36" width="12.34" height="12.34"/></g>
<path d="M1314.2 985.02V1039.76M1301.82 985.02H1326.58M1301.82 1039.76H1326.58M1289.35 1012.85H1339.06" stroke="#000" stroke-width="2.4" fill="none"/>
<g fill="#4F9EF8" stroke="#000" stroke-width="1.2"><path d="M1394.73 860.12L1401.79 874.15H1387.66Z"/><path d="M1406.04 976.6L1413.1 990.64H1398.97Z"/><path d="M1371.88 990.18L1378.94 1004.21H1364.82Z"/><path d="M1406.04 994.25L1413.1 1008.28H1398.97Z"/><path d="M1383.19 998.32L1390.25 1012.35H1376.13Z"/><path d="M1394.73 1004.43L1401.79 1018.46H1387.66Z"/><path d="M1383.19 1018L1390.25 1032.03H1376.13Z"/><path d="M1394.73 1041.75L1401.79 1055.78H1387.66Z"/><path d="M1406.04 1040.16L1413.1 1054.2H1398.97Z"/><path d="M1371.88 1053.74L1378.94 1067.77H1364.82Z"/></g>
<path d="M1389.07 949.96V1059.21M1376.69 949.96H1401.45M1376.69 1059.21H1401.45M1364.22 1004.7H1413.93" stroke="#000" stroke-width="2.4" fill="none"/>
</g>
<g id="B1">
<path d="M88.5 1767.4V2023.6M80.99 2023H344.04M80.99 1768H88.5M80.99 1853H88.5M80.99 1938H88.5" stroke="#000" stroke-width="1.35" fill="none"/>
<text class="tl" font-size="25.76" x="77.94" y="1777.39" text-anchor="end" textLength="25.53" lengthAdjust="spacingAndGlyphs">15</text>
<text class="tl" font-size="25.76" x="77.94" y="1862.39" text-anchor="end" textLength="25.53" lengthAdjust="spacingAndGlyphs">10</text>
<text class="tl" font-size="25.76" x="77.94" y="1947.39" text-anchor="end" textLength="12.77" lengthAdjust="spacingAndGlyphs">5</text>
<text class="tl" font-size="25.76" x="77.94" y="2032.39" text-anchor="end" textLength="12.77" lengthAdjust="spacingAndGlyphs">0</text>
<text class="yl" font-size="41" transform="translate(46.07 1969.8) rotate(-90)" textLength="171.75" lengthAdjust="spacingAndGlyphs">% CCR4+</text>
<g fill="#FF8080" stroke="#000" stroke-width="1.36"><circle cx="130.96" cy="1948.95" r="7.27"/><circle cx="130.96" cy="1967.05" r="7.27"/><circle cx="130.96" cy="1994.87" r="7.27"/></g>
<path d="M130.96 1938.32V1986.95M116.93 1938.32H144.99M116.93 1986.95H144.99M102.8 1962.75H159.13" stroke="#000" stroke-width="2.72" fill="none"/>
<g fill="#FF8080" stroke="#000" stroke-width="1.36"><circle cx="151.55" cy="1940.81" r="7.27"/></g>
<g fill="#00BE00" stroke="#000" stroke-width="1.36"><rect x="208.99" y="1841.05" width="14.03" height="14.03"/><rect x="208.99" y="1905.74" width="14.03" height="14.03"/><rect x="201.53" y="1933.79" width="14.03" height="14.03"/><rect x="212.39" y="1936.05" width="14.03" height="14.03"/><rect x="187.96" y="1941.94" width="14.03" height="14.03"/><rect x="195.42" y="1941.26" width="14.03" height="14.03"/><rect x="230.03" y="1945.78" width="14.03" height="14.03"/><rect x="222.57" y="1944.65" width="14.03" height="14.03"/><rect x="195.42" y="1955.51" width="14.03" height="14.03"/><rect x="208.99" y="1953.7" width="14.03" height="14.03"/><rect x="222.57" y="1961.61" width="14.03" height="14.03"/><rect x="215.78" y="1946.91" width="14.03" height="14.03"/><rect x="203.34" y="1946.91" width="14.03" height="14.03"/></g>
<path d="M216.01 1912.08V1972.7M201.98 1912.08H230.04M201.98 1972.7H230.04M187.85 1942.62H244.18" stroke="#000" stroke-width="2.72" fill="none"/>
<g fill="#4F9EF8" stroke="#000" stroke-width="1.36"><path d="M307.17 1844.11L315.2 1860.08H299.13Z"/><path d="M294.27 1897.94L302.31 1913.91H286.24Z"/><path d="M307.17 1908.8L315.2 1924.77H299.13Z"/><path d="M294.27 1926.67L302.31 1942.63H286.24Z"/><path d="M294.27 1945.89L302.31 1961.86H286.24Z"/><path d="M307.17 1954.49L315.2 1970.46H299.13Z"/><path d="M320.29 1951.55L328.32 1967.52H312.25Z"/><path d="M281.38 1959.92L289.42 1975.88H273.35Z"/><path d="M294.27 1965.8L302.31 1981.77H286.24Z"/><path d="M294.27 2000.63L302.31 2016.6H286.24Z"/></g>
<path d="M300.83 1899.42V1986.5M286.8 1899.42H314.86M286.8 1986.5H314.86M272.67 1942.85H329" stroke="#000" stroke-width="2.72" fill="none"/>
</g>
<g id="B2">
<path d="M451 1758.4V2023.6M443.21 2023H715.85M443.21 1759H451M443.21 1847H451M443.21 1935H451" stroke="#000" stroke-width="1.35" fill="none"/>
<text class="tl" font-size="26.81" x="440.03" y="1768.76" text-anchor="end" textLength="26.58" lengthAdjust="spacingAndGlyphs">15</text>
<text class="tl" font-size="26.81" x="440.03" y="1856.76" text-anchor="end" textLength="26.58" lengthAdjust="spacingAndGlyphs">10</text>
<text class="tl" font-size="26.81" x="440.03" y="1944.76" text-anchor="end" textLength="13.29" lengthAdjust="spacingAndGlyphs">5</text>
<text class="tl" font-size="26.81" x="440.03" y="2032.76" text-anchor="end" textLength="13.29" lengthAdjust="spacingAndGlyphs">0</text>
<text class="yl" font-size="41" transform="translate(409.28 1967.54) rotate(-90)" textLength="170.62" lengthAdjust="spacingAndGlyphs">% CCR6+</text>
<g fill="#FF8080" stroke="#000" stroke-width="1.42"><circle cx="494.63" cy="1883.36" r="7.58"/><circle cx="494.63" cy="1936.06" r="7.58"/><circle cx="494.63" cy="1972.48" r="7.58"/><circle cx="494.63" cy="1988.54" r="7.58"/></g>
<path d="M494.63 1898.29V1991.48M480.02 1898.29H509.24M480.02 1991.48H509.24M465.31 1944.88H523.95" stroke="#000" stroke-width="2.83" fill="none"/>
<g fill="#00BE00" stroke="#000" stroke-width="1.42"><rect x="568.07" y="1847.09" width="14.63" height="14.63"/><rect x="582.77" y="1880.34" width="14.63" height="14.63"/><rect x="554.04" y="1908.84" width="14.63" height="14.63"/><rect x="582.77" y="1906.58" width="14.63" height="14.63"/><rect x="597.25" y="1909.29" width="14.63" height="14.63"/><rect x="582.77" y="1921.73" width="14.63" height="14.63"/><rect x="554.04" y="1939.83" width="14.63" height="14.63"/><rect x="568.07" y="1938.7" width="14.63" height="14.63"/><rect x="597.25" y="1938.7" width="14.63" height="14.63"/><rect x="582.77" y="1947.75" width="14.63" height="14.63"/><rect x="554.04" y="1967.65" width="14.63" height="14.63"/><rect x="597.25" y="1961.32" width="14.63" height="14.63"/><rect x="582.77" y="1971.5" width="14.63" height="14.63"/><rect x="568.07" y="1985.07" width="14.63" height="14.63"/></g>
<path d="M583.07 1900.1V1974.96M568.47 1900.1H597.68M568.47 1974.96H597.68M553.75 1937.19H612.39" stroke="#000" stroke-width="2.83" fill="none"/>
<g fill="#4F9EF8" stroke="#000" stroke-width="1.42"><path d="M670.83 1771.84L679.21 1788.48H662.46Z"/><path d="M660.88 1868.65L669.25 1885.29H652.51Z"/><path d="M681.01 1883.58L689.39 1900.22H672.64Z"/><path d="M670.83 1929.04L679.21 1945.68H662.46Z"/><path d="M691.19 1936.05L699.56 1952.7H682.82Z"/><path d="M660.88 1941.71L669.25 1958.35H652.51Z"/><path d="M681.01 1947.36L689.39 1964.01H672.64Z"/><path d="M670.83 1951.89L679.21 1968.53H662.46Z"/><path d="M650.7 1960.26L659.08 1976.9H642.33Z"/><path d="M691.19 1960.94L699.56 1977.58H682.82Z"/></g>
<path d="M670.83 1863.68V1981.3M656.23 1863.68H685.44M656.23 1981.3H685.44M641.51 1922.49H700.15" stroke="#000" stroke-width="2.83" fill="none"/>
</g>
<g id="B3">
<path d="M838.5 1751.4V2019.6M830.6 2019H1106.2M830.6 1752H838.5M830.6 1818.5H838.5M830.6 1885.5H838.5M830.6 1952.5H838.5" stroke="#000" stroke-width="1.35" fill="none"/>
<text class="tl" font-size="27.21" x="827.37" y="1761.89" text-anchor="end" textLength="26.97" lengthAdjust="spacingAndGlyphs">20</text>
<text class="tl" font-size="27.21" x="827.37" y="1828.39" text-anchor="end" textLength="26.97" lengthAdjust="spacingAndGlyphs">15</text>
<text class="tl" font-size="27.21" x="827.37" y="1895.39" text-anchor="end" textLength="26.97" lengthAdjust="spacingAndGlyphs">10</text>
<text class="tl" font-size="27.21" x="827.37" y="1962.39" text-anchor="end" textLength="13.48" lengthAdjust="spacingAndGlyphs">5</text>
<text class="tl" font-size="27.21" x="827.37" y="2028.89" text-anchor="end" textLength="13.48" lengthAdjust="spacingAndGlyphs">0</text>
<text class="yl" font-size="41" transform="translate(777.02 1970.93) rotate(-90)" textLength="203.42" lengthAdjust="spacingAndGlyphs">% CD161++</text>
<g fill="#FF8080" stroke="#000" stroke-width="1.44"><circle cx="860.79" cy="1904.17" r="7.69"/><circle cx="882.5" cy="1948.73" r="7.69"/><circle cx="882.5" cy="1972.02" r="7.69"/></g>
<path d="M882.5 1893.31V1966.37M867.68 1893.31H897.32M867.68 1966.37H897.32M852.75 1929.95H912.25" stroke="#000" stroke-width="2.88" fill="none"/>
<g fill="#FF8080" stroke="#000" stroke-width="1.44"><circle cx="903.99" cy="1895.57" r="7.69"/></g>
<g fill="#00BE00" stroke="#000" stroke-width="1.44"><rect x="968.27" y="1815.31" width="14.85" height="14.85"/><rect x="959.67" y="1864.62" width="14.85" height="14.85"/><rect x="968.27" y="1883.62" width="14.85" height="14.85"/><rect x="968.27" y="1905.79" width="14.85" height="14.85"/><rect x="959.67" y="1961.21" width="14.85" height="14.85"/><rect x="951.08" y="1969.58" width="14.85" height="14.85"/><rect x="985.68" y="1970.71" width="14.85" height="14.85"/><rect x="976.86" y="1975.23" width="14.85" height="14.85"/><rect x="968.27" y="1973.65" width="14.85" height="14.85"/><rect x="942.48" y="1982.02" width="14.85" height="14.85"/><rect x="959.67" y="1984.96" width="14.85" height="14.85"/><rect x="976.86" y="1995.14" width="14.85" height="14.85"/><rect x="951.08" y="1997.85" width="14.85" height="14.85"/><rect x="963.97" y="1999.66" width="14.85" height="14.85"/></g>
<path d="M971.39 1898.51V2012.74M956.57 1898.51H986.21M956.57 2012.74H986.21M941.64 1955.51H1001.14" stroke="#000" stroke-width="2.88" fill="none"/>
<g fill="#4F9EF8" stroke="#000" stroke-width="1.44"><path d="M1060.51 1931.86L1069.01 1948.75H1052.01Z"/><path d="M1050.56 1944.98L1059.06 1961.87H1042.06Z"/><path d="M1070.69 1952.89L1079.19 1969.79H1062.19Z"/><path d="M1060.51 1969.18L1069.01 1986.07H1052.01Z"/><path d="M1050.56 1981.62L1059.06 1998.51H1042.06Z"/><path d="M1081.32 1980.49L1089.82 1997.38H1072.82Z"/><path d="M1070.69 1990.67L1079.19 2007.56H1062.19Z"/><path d="M1060.51 1995.64L1069.01 2012.54H1052.01Z"/><path d="M1040.38 1997.9L1048.88 2014.8H1031.88Z"/><path d="M1081.32 2007.63L1089.82 2024.52H1072.82Z"/></g>
<path d="M1060.51 1958.68V2007.54M1045.69 1958.68H1075.33M1045.69 2007.54H1075.33M1030.76 1983.33H1090.26" stroke="#000" stroke-width="2.88" fill="none"/>
</g>
<g id="B4">
<path d="M1212 1759.9V2025.6M1204.21 2025H1476.88M1204.21 1760.5H1212M1204.21 1813.5H1212M1204.21 1866H1212M1204.21 1919H1212M1204.21 1972H1212" stroke="#000" stroke-width="1.35" fill="none"/>
<text class="tl" font-size="26.81" x="1201.03" y="1770.26" text-anchor="end" textLength="26.58" lengthAdjust="spacingAndGlyphs">50</text>
<text class="tl" font-size="26.81" x="1201.03" y="1823.26" text-anchor="end" textLength="26.58" lengthAdjust="spacingAndGlyphs">40</text>
<text class="tl" font-size="26.81" x="1201.03" y="1875.76" text-anchor="end" textLength="26.58" lengthAdjust="spacingAndGlyphs">30</text>
<text class="tl" font-size="26.81" x="1201.03" y="1928.76" text-anchor="end" textLength="26.58" lengthAdjust="spacingAndGlyphs">20</text>
<text class="tl" font-size="26.81" x="1201.03" y="1981.76" text-anchor="end" textLength="26.58" lengthAdjust="spacingAndGlyphs">10</text>
<text class="tl" font-size="26.81" x="1201.03" y="2034.76" text-anchor="end" textLength="13.29" lengthAdjust="spacingAndGlyphs">0</text>
<text class="yl" font-size="41" transform="translate(1152.22 1956.23) rotate(-90)" textLength="197.76" lengthAdjust="spacingAndGlyphs">% CXCR3+</text>
<g fill="#FF8080" stroke="#000" stroke-width="1.42"><circle cx="1255.89" cy="1903.26" r="7.58"/><circle cx="1255.89" cy="1961.85" r="7.58"/><circle cx="1255.89" cy="1978.81" r="7.58"/></g>
<path d="M1255.89 1891.95V1976.55M1241.29 1891.95H1270.5M1241.29 1976.55H1270.5M1226.57 1934.48H1285.21" stroke="#000" stroke-width="2.83" fill="none"/>
<g fill="#FF8080" stroke="#000" stroke-width="1.42"><circle cx="1277.38" cy="1893.31" r="7.58"/></g>
<g fill="#00BE00" stroke="#000" stroke-width="1.42"><rect x="1336.57" y="1809.54" width="14.63" height="14.63"/><rect x="1325.94" y="1865.86" width="14.63" height="14.63"/><rect x="1346.97" y="1871.97" width="14.63" height="14.63"/><rect x="1325.94" y="1902.51" width="14.63" height="14.63"/><rect x="1336.57" y="1899.11" width="14.63" height="14.63"/><rect x="1346.97" y="1899.11" width="14.63" height="14.63"/><rect x="1315.31" y="1926.26" width="14.63" height="14.63"/><rect x="1357.83" y="1923.32" width="14.63" height="14.63"/><rect x="1336.57" y="1933.04" width="14.63" height="14.63"/><rect x="1346.97" y="1929.65" width="14.63" height="14.63"/><rect x="1325.94" y="1940.96" width="14.63" height="14.63"/><rect x="1357.83" y="1939.83" width="14.63" height="14.63"/><rect x="1346.97" y="1947.75" width="14.63" height="14.63"/><rect x="1325.94" y="1957.47" width="14.63" height="14.63"/></g>
<path d="M1343.88 1877.93V1956.87M1329.27 1877.93H1358.49M1329.27 1956.87H1358.49M1314.56 1917.51H1373.2" stroke="#000" stroke-width="2.83" fill="none"/>
<g fill="#4F9EF8" stroke="#000" stroke-width="1.42"><path d="M1432.1 1855.08L1440.47 1871.72H1423.72Z"/><path d="M1452 1869.1L1460.37 1885.74H1443.63Z"/><path d="M1432.1 1874.76L1440.47 1891.4H1423.72Z"/><path d="M1411.96 1884.94L1420.34 1901.58H1403.59Z"/><path d="M1452 1897.38L1460.37 1914.02H1443.63Z"/><path d="M1432.1 1917.28L1440.47 1933.92H1423.72Z"/><path d="M1411.96 1946.01L1420.34 1962.65H1403.59Z"/><path d="M1452 1948.95L1460.37 1965.59H1443.63Z"/><path d="M1432.1 1957.32L1440.47 1973.96H1423.72Z"/><path d="M1432.1 1994.19L1440.47 2010.83H1423.72Z"/></g>
<path d="M1432.1 1876.57V1967.95M1417.49 1876.57H1446.7M1417.49 1967.95H1446.7M1402.77 1922.49H1461.42" stroke="#000" stroke-width="2.83" fill="none"/>
</g>
<g id="B5">
<path d="M1581 1771.9V2026.1M1573.49 2025.5H1843.05M1573.49 1772.5H1581M1573.49 1857H1581M1573.49 1941.5H1581" stroke="#000" stroke-width="1.35" fill="none"/>
<text class="tl" font-size="25.76" x="1570.44" y="1781.89" text-anchor="end" textLength="25.53" lengthAdjust="spacingAndGlyphs">30</text>
<text class="tl" font-size="25.76" x="1570.44" y="1866.39" text-anchor="end" textLength="25.53" lengthAdjust="spacingAndGlyphs">20</text>
<text class="tl" font-size="25.76" x="1570.44" y="1950.89" text-anchor="end" textLength="25.53" lengthAdjust="spacingAndGlyphs">10</text>
<text class="tl" font-size="25.76" x="1570.44" y="2034.89" text-anchor="end" textLength="12.77" lengthAdjust="spacingAndGlyphs">0</text>
<text class="yl" font-size="41" transform="translate(1529.47 1979.98) rotate(-90)" textLength="197.76" lengthAdjust="spacingAndGlyphs">% GATA3+</text>
<g fill="#FF8080" stroke="#000" stroke-width="1.36"><circle cx="1622.51" cy="1976.55" r="7.27"/><circle cx="1643.1" cy="2010.48" r="7.27"/></g>
<path d="M1622.51 1969.08V2019.75M1608.48 1969.08H1636.54M1608.48 2019.75H1636.54M1594.35 1994.42H1650.68" stroke="#000" stroke-width="2.72" fill="none"/>
<g fill="#FF8080" stroke="#000" stroke-width="1.36"><circle cx="1602.15" cy="1969.99" r="7.27"/><circle cx="1602.15" cy="2021.79" r="7.27"/></g>
<g fill="#00BE00" stroke="#000" stroke-width="1.36"><rect x="1703.71" y="1878.38" width="14.03" height="14.03"/><rect x="1695.57" y="1886.29" width="14.03" height="14.03"/><rect x="1695.57" y="1903.26" width="14.03" height="14.03"/><rect x="1703.71" y="1905.74" width="14.03" height="14.03"/><rect x="1703.71" y="1936.73" width="14.03" height="14.03"/><rect x="1703.71" y="1951.44" width="14.03" height="14.03"/><rect x="1695.57" y="1957.77" width="14.03" height="14.03"/><rect x="1695.57" y="1982.65" width="14.03" height="14.03"/><rect x="1687.2" y="2002.78" width="14.03" height="14.03"/><rect x="1695.57" y="2004.59" width="14.03" height="14.03"/><rect x="1703.71" y="2004.59" width="14.03" height="14.03"/><rect x="1720.22" y="2005.72" width="14.03" height="14.03"/><rect x="1679.28" y="2010.92" width="14.03" height="14.03"/><rect x="1711.85" y="2017.71" width="14.03" height="14.03"/></g>
<path d="M1706.88 1917.06V2017.94M1692.85 1917.06H1720.91M1692.85 2017.94H1720.91M1678.72 1967.5H1735.05" stroke="#000" stroke-width="2.72" fill="none"/>
<g fill="#4F9EF8" stroke="#000" stroke-width="1.36"><path d="M1791.02 1788.69L1799.06 1804.66H1782.99Z"/><path d="M1791.02 1814.7L1799.06 1830.67H1782.99Z"/><path d="M1770.44 1932.32L1778.47 1948.29H1762.41Z"/><path d="M1791.02 1929.38L1799.06 1945.35H1782.99Z"/><path d="M1811.15 1941.37L1819.19 1957.34H1803.12Z"/><path d="M1791.02 1948.83L1799.06 1964.8H1782.99Z"/><path d="M1791.02 1996.79L1799.06 2012.75H1782.99Z"/><path d="M1811.15 2002.44L1819.19 2018.41H1803.12Z"/><path d="M1791.02 2017.6L1799.06 2033.56H1782.99Z"/></g>
<path d="M1791.02 1857.8V2017.04M1776.99 1857.8H1805.05M1776.99 2017.04H1805.05M1762.86 1937.19H1819.19" stroke="#000" stroke-width="2.72" fill="none"/>
</g>
<g id="B6">
<path d="M101 2099.9V2373.6M92.96 2373H374.35M92.96 2100.5H101M92.96 2191.5H101M92.96 2282.5H101" stroke="#000" stroke-width="1.35" fill="none"/>
<text class="tl" font-size="27.72" x="89.67" y="2110.57" text-anchor="end" textLength="27.48" lengthAdjust="spacingAndGlyphs">60</text>
<text class="tl" font-size="27.72" x="89.67" y="2201.57" text-anchor="end" textLength="27.48" lengthAdjust="spacingAndGlyphs">40</text>
<text class="tl" font-size="27.72" x="89.67" y="2292.57" text-anchor="end" textLength="27.48" lengthAdjust="spacingAndGlyphs">20</text>
<text class="tl" font-size="27.72" x="89.67" y="2383.07" text-anchor="end" textLength="13.74" lengthAdjust="spacingAndGlyphs">0</text>
<text class="yl" font-size="41" transform="translate(41.55 2309.45) rotate(-90)" textLength="171.75" lengthAdjust="spacingAndGlyphs">% TBET+</text>
<g fill="#FF8080" stroke="#000" stroke-width="1.47"><circle cx="146.35" cy="2183.43" r="7.84"/><circle cx="146.35" cy="2256.26" r="7.84"/><circle cx="124.18" cy="2304.89" r="7.84"/><circle cx="168.51" cy="2301.5" r="7.84"/></g>
<path d="M146.35 2205.14V2318.46M131.24 2205.14H161.45M131.24 2318.46H161.45M116.03 2261.46H176.66" stroke="#000" stroke-width="2.93" fill="none"/>
<g fill="#00BE00" stroke="#000" stroke-width="1.47"><rect x="229.48" y="2158.22" width="15.14" height="15.14"/><rect x="251.64" y="2156.63" width="15.14" height="15.14"/><rect x="207.76" y="2186.94" width="15.14" height="15.14"/><rect x="229.48" y="2197.8" width="15.14" height="15.14"/><rect x="207.76" y="2229.92" width="15.14" height="15.14"/><rect x="229.48" y="2241.91" width="15.14" height="15.14"/><rect x="207.76" y="2250.95" width="15.14" height="15.14"/><rect x="251.64" y="2279.23" width="15.14" height="15.14"/><rect x="207.76" y="2282.62" width="15.14" height="15.14"/><rect x="229.48" y="2286.69" width="15.14" height="15.14"/><rect x="207.76" y="2307.5" width="15.14" height="15.14"/><rect x="229.48" y="2307.95" width="15.14" height="15.14"/><rect x="251.64" y="2307.5" width="15.14" height="15.14"/><rect x="229.48" y="2337.59" width="15.14" height="15.14"/></g>
<path d="M237.05 2200.62V2318.92M221.95 2200.62H252.15M221.95 2318.92H252.15M206.73 2259.43H267.36" stroke="#000" stroke-width="2.93" fill="none"/>
<g fill="#4F9EF8" stroke="#000" stroke-width="1.47"><path d="M334.99 2145.81L343.65 2163.03H326.32Z"/><path d="M334.99 2185.85L343.65 2203.07H326.32Z"/><path d="M320.96 2198.96L329.63 2216.19H312.3Z"/><path d="M349.01 2198.96L357.68 2216.19H340.35Z"/><path d="M307.17 2204.62L315.83 2221.84H298.5Z"/><path d="M334.99 2214.8L343.65 2232.02H326.32Z"/><path d="M320.96 2257.1L329.63 2274.32H312.3Z"/><path d="M334.99 2309.12L343.65 2326.34H326.32Z"/><path d="M320.96 2318.17L329.63 2335.39H312.3Z"/><path d="M320.96 2338.52L329.63 2355.75H312.3Z"/></g>
<path d="M328.2 2180.04V2309.42M313.1 2180.04H343.3M313.1 2309.42H343.3M297.89 2244.73H358.52" stroke="#000" stroke-width="2.93" fill="none"/>
</g>
<g id="B7">
<path d="M469.5 2105.4V2374.1M461.57 2373.5H737.56M461.57 2106H469.5M461.57 2173H469.5M461.57 2239.5H469.5M461.57 2306.5H469.5" stroke="#000" stroke-width="1.35" fill="none"/>
<text class="tl" font-size="27.31" x="458.33" y="2115.92" text-anchor="end" textLength="13.53" lengthAdjust="spacingAndGlyphs">8</text>
<text class="tl" font-size="27.31" x="458.33" y="2182.92" text-anchor="end" textLength="13.53" lengthAdjust="spacingAndGlyphs">6</text>
<text class="tl" font-size="27.31" x="458.33" y="2249.42" text-anchor="end" textLength="13.53" lengthAdjust="spacingAndGlyphs">4</text>
<text class="tl" font-size="27.31" x="458.33" y="2316.42" text-anchor="end" textLength="13.53" lengthAdjust="spacingAndGlyphs">2</text>
<text class="tl" font-size="27.31" x="458.33" y="2383.42" text-anchor="end" textLength="13.53" lengthAdjust="spacingAndGlyphs">0</text>
<text class="yl" font-size="41" transform="translate(430.32 2283.44) rotate(-90)" textLength="136.69" lengthAdjust="spacingAndGlyphs">% Th1+</text>
<g fill="#FF8080" stroke="#000" stroke-width="1.44"><circle cx="513.86" cy="2252.87" r="7.72"/><circle cx="513.86" cy="2276.17" r="7.72"/><circle cx="535.8" cy="2320.95" r="7.72"/></g>
<path d="M513.86 2257.62V2335.2M498.98 2257.62H528.73M498.98 2335.2H528.73M484 2296.3H543.72" stroke="#000" stroke-width="2.89" fill="none"/>
<g fill="#FF8080" stroke="#000" stroke-width="1.44"><circle cx="492.14" cy="2336.56" r="7.72"/></g>
<g fill="#00BE00" stroke="#000" stroke-width="1.44"><rect x="595.75" y="2228" width="14.9" height="14.9"/><rect x="606.38" y="2245.42" width="14.9" height="14.9"/><rect x="595.75" y="2261.25" width="14.9" height="14.9"/><rect x="584.89" y="2300.83" width="14.9" height="14.9"/><rect x="617.46" y="2297.89" width="14.9" height="14.9"/><rect x="574.04" y="2312.82" width="14.9" height="14.9"/><rect x="606.38" y="2311.01" width="14.9" height="14.9"/><rect x="595.75" y="2314.41" width="14.9" height="14.9"/><rect x="617.46" y="2315.54" width="14.9" height="14.9"/><rect x="584.89" y="2319.38" width="14.9" height="14.9"/><rect x="606.38" y="2326.85" width="14.9" height="14.9"/><rect x="595.75" y="2330.24" width="14.9" height="14.9"/><rect x="574.04" y="2336.57" width="14.9" height="14.9"/><rect x="617.46" y="2338.16" width="14.9" height="14.9"/></g>
<path d="M602.98 2276.17V2344.02M588.1 2276.17H617.85M588.1 2344.02H617.85M573.12 2309.42H632.84" stroke="#000" stroke-width="2.89" fill="none"/>
<g fill="#4F9EF8" stroke="#000" stroke-width="1.44"><path d="M692.32 2169.24L700.85 2186.2H683.79Z"/><path d="M692.32 2208.6L700.85 2225.55H683.79Z"/><path d="M671.96 2239.36L680.5 2256.32H663.43Z"/><path d="M712.68 2257.91L721.21 2274.86H704.15Z"/><path d="M692.32 2276L700.85 2292.96H683.79Z"/><path d="M692.32 2302.69L700.85 2319.65H683.79Z"/><path d="M671.96 2322.37L680.5 2339.33H663.43Z"/><path d="M712.68 2326.9L721.21 2343.85H704.15Z"/><path d="M692.32 2336.62L700.85 2353.58H683.79Z"/><path d="M692.32 2360.83L700.85 2377.78H683.79Z"/></g>
<path d="M692.32 2226.4V2348.32M677.45 2226.4H707.2M677.45 2348.32H707.2M662.46 2287.48H722.18" stroke="#000" stroke-width="2.89" fill="none"/>
</g>
<g id="B8">
<path d="M862.5 2103.9V2370.1M854.66 2369.5H1127.92M854.66 2104.5H862.5M854.66 2170.5H862.5M854.66 2237.5H862.5M854.66 2303.5H862.5" stroke="#000" stroke-width="1.35" fill="none"/>
<text class="tl" font-size="26.99" x="851.46" y="2114.31" text-anchor="end" textLength="33.43" lengthAdjust="spacingAndGlyphs">0.4</text>
<text class="tl" font-size="26.99" x="851.46" y="2180.31" text-anchor="end" textLength="33.43" lengthAdjust="spacingAndGlyphs">0.3</text>
<text class="tl" font-size="26.99" x="851.46" y="2247.31" text-anchor="end" textLength="33.43" lengthAdjust="spacingAndGlyphs">0.2</text>
<text class="tl" font-size="26.99" x="851.46" y="2313.31" text-anchor="end" textLength="33.43" lengthAdjust="spacingAndGlyphs">0.1</text>
<text class="tl" font-size="26.99" x="851.46" y="2379.31" text-anchor="end" textLength="33.43" lengthAdjust="spacingAndGlyphs">0.0</text>
<text class="yl" font-size="41" transform="translate(785.62 2280.05) rotate(-90)" textLength="135.56" lengthAdjust="spacingAndGlyphs">% Th2+</text>
<g fill="#FF8080" stroke="#000" stroke-width="1.43"><circle cx="906.48" cy="2324.12" r="7.63"/><circle cx="906.48" cy="2352.39" r="7.63"/><circle cx="927.74" cy="2357.37" r="7.63"/></g>
<path d="M906.48 2332.04V2368M891.78 2332.04H921.18M891.78 2368H921.18M876.97 2349.9H935.99" stroke="#000" stroke-width="2.85" fill="none"/>
<g fill="#FF8080" stroke="#000" stroke-width="1.43"><circle cx="884.99" cy="2365.96" r="7.63"/></g>
<g fill="#00BE00" stroke="#000" stroke-width="1.43"><rect x="987.33" y="2137.39" width="14.72" height="14.72"/><rect x="987.33" y="2229.67" width="14.72" height="14.72"/><rect x="987.33" y="2289.16" width="14.72" height="14.72"/><rect x="1009.04" y="2330.33" width="14.72" height="14.72"/><rect x="979.19" y="2333.04" width="14.72" height="14.72"/><rect x="965.61" y="2335.3" width="14.72" height="14.72"/><rect x="972.4" y="2338.24" width="14.72" height="14.72"/><rect x="993.89" y="2338.92" width="14.72" height="14.72"/><rect x="1001.35" y="2346.16" width="14.72" height="14.72"/><rect x="987.33" y="2347.29" width="14.72" height="14.72"/><rect x="965.61" y="2354.08" width="14.72" height="14.72"/><rect x="979.19" y="2354.08" width="14.72" height="14.72"/><rect x="1009.04" y="2357.47" width="14.72" height="14.72"/><rect x="993.89" y="2358.6" width="14.72" height="14.72"/></g>
<path d="M994.69 2262.6V2369.36M979.99 2262.6H1009.39M979.99 2369.36H1009.39M965.18 2324.8H1024.2" stroke="#000" stroke-width="2.85" fill="none"/>
<g fill="#4F9EF8" stroke="#000" stroke-width="1.43"><path d="M1089.69 2182.69L1098.12 2199.44H1081.26Z"/><path d="M1076.35 2216.17L1084.77 2232.92H1067.92Z"/><path d="M1076.35 2295.33L1084.77 2312.08H1067.92Z"/><path d="M1089.69 2333.78L1098.12 2350.54H1081.26Z"/><path d="M1103.49 2332.65L1111.92 2349.41H1095.06Z"/><path d="M1063 2338.31L1071.43 2355.06H1054.57Z"/><path d="M1076.35 2347.36L1084.77 2364.11H1067.92Z"/><path d="M1103.49 2354.59L1111.92 2371.35H1095.06Z"/><path d="M1089.69 2356.4L1098.12 2373.16H1081.26Z"/><path d="M1063 2362.06L1071.43 2378.81H1054.57Z"/></g>
<path d="M1083.13 2257.39V2368.9M1068.43 2257.39H1097.83M1068.43 2368.9H1097.83M1053.62 2319.6H1112.64" stroke="#000" stroke-width="2.85" fill="none"/>
</g>
<g id="B9">
<path d="M1229.5 2118.4V2372.6M1221.99 2372H1483.21M1221.99 2119H1229.5M1221.99 2169.5H1229.5M1221.99 2220H1229.5M1221.99 2270.5H1229.5M1221.99 2321.5H1229.5" stroke="#000" stroke-width="1.35" fill="none"/>
<text class="tl" font-size="25.76" x="1218.94" y="2128.39" text-anchor="end" textLength="25.53" lengthAdjust="spacingAndGlyphs">10</text>
<text class="tl" font-size="25.76" x="1218.94" y="2178.89" text-anchor="end" textLength="12.77" lengthAdjust="spacingAndGlyphs">8</text>
<text class="tl" font-size="25.76" x="1218.94" y="2229.39" text-anchor="end" textLength="12.77" lengthAdjust="spacingAndGlyphs">6</text>
<text class="tl" font-size="25.76" x="1218.94" y="2279.89" text-anchor="end" textLength="12.77" lengthAdjust="spacingAndGlyphs">4</text>
<text class="tl" font-size="25.76" x="1218.94" y="2330.89" text-anchor="end" textLength="12.77" lengthAdjust="spacingAndGlyphs">2</text>
<text class="tl" font-size="25.76" x="1218.94" y="2381.39" text-anchor="end" textLength="12.77" lengthAdjust="spacingAndGlyphs">0</text>
<text class="yl" font-size="41" transform="translate(1187.74 2313.98) rotate(-90)" textLength="155.92" lengthAdjust="spacingAndGlyphs">% Th17+</text>
<g fill="#FF8080" stroke="#000" stroke-width="1.36"><circle cx="1271.5" cy="2195.87" r="7.27"/><circle cx="1271.5" cy="2218.26" r="7.27"/><circle cx="1271.5" cy="2276.62" r="7.27"/><circle cx="1271.5" cy="2329.1" r="7.27"/></g>
<path d="M1271.5 2194.74V2314.39M1257.47 2194.74H1285.53M1257.47 2314.39H1285.53M1243.34 2254.68H1299.66" stroke="#000" stroke-width="2.72" fill="none"/>
<g fill="#00BE00" stroke="#000" stroke-width="1.36"><rect x="1355.64" y="2150.85" width="14.03" height="14.03"/><rect x="1355.64" y="2172.34" width="14.03" height="14.03"/><rect x="1341.84" y="2186.14" width="14.03" height="14.03"/><rect x="1355.64" y="2242.91" width="14.03" height="14.03"/><rect x="1369.44" y="2305.11" width="14.03" height="14.03"/><rect x="1355.64" y="2306.92" width="14.03" height="14.03"/><rect x="1341.84" y="2308.51" width="14.03" height="14.03"/><rect x="1328.27" y="2316.42" width="14.03" height="14.03"/><rect x="1369.44" y="2325.47" width="14.03" height="14.03"/><rect x="1355.64" y="2334.52" width="14.03" height="14.03"/><rect x="1328.27" y="2337.01" width="14.03" height="14.03"/><rect x="1369.44" y="2350.58" width="14.03" height="14.03"/><rect x="1355.64" y="2353.29" width="14.03" height="14.03"/><rect x="1328.27" y="2356.69" width="14.03" height="14.03"/></g>
<path d="M1355.87 2225.05V2367.1M1341.84 2225.05H1369.9M1341.84 2367.1H1369.9M1327.7 2296.07H1384.03" stroke="#000" stroke-width="2.72" fill="none"/>
<g fill="#4F9EF8" stroke="#000" stroke-width="1.36"><path d="M1433.23 2269.04L1441.26 2285H1425.19Z"/><path d="M1433.23 2285.55L1441.26 2301.52H1425.19Z"/><path d="M1447.02 2283.74L1455.06 2299.71H1438.99Z"/><path d="M1460.6 2328.53L1468.63 2344.49H1452.56Z"/><path d="M1447.02 2335.99L1455.06 2351.96H1438.99Z"/><path d="M1419.43 2338.25L1427.46 2354.22H1411.39Z"/><path d="M1433.23 2347.75L1441.26 2363.72H1425.19Z"/><path d="M1460.6 2359.51L1468.63 2375.48H1452.56Z"/><path d="M1419.43 2361.78L1427.46 2377.74H1411.39Z"/><path d="M1447.02 2361.78L1455.06 2377.74H1438.99Z"/></g>
<path d="M1440.24 2299.69V2369.81M1426.21 2299.69H1454.27M1426.21 2369.81H1454.27M1412.07 2334.52H1468.4" stroke="#000" stroke-width="2.72" fill="none"/>
</g>
<g>
<circle cx="1626.3" cy="924.8" r="8.9" fill="#FF8080" stroke="#222" stroke-width="1.4"/>
<rect x="1618.8" y="952.7" width="15.8" height="15.8" fill="#14C414" stroke="#222" stroke-width="1.4"/>
<path d="M1629.2 985.2L1637.8 1001.6H1620.8Z" fill="#52A0F5" stroke="#222" stroke-width="1.3"/>
<text class="lg" font-size="23.6" x="1648.6" y="933.7" textLength="43.5" lengthAdjust="spacingAndGlyphs">CTR</text>
<text class="lg" font-size="23.6" x="1648.6" y="970.6" textLength="30.5" lengthAdjust="spacingAndGlyphs">PN</text>
<text class="lg" font-size="23.6" x="1649.4" y="1004.4" textLength="28.5" lengthAdjust="spacingAndGlyphs">PP</text>
</g>
<g>
<circle cx="1641.6" cy="2212" r="8.9" fill="#FF8080" stroke="#222" stroke-width="1.4"/>
<rect x="1634.2" y="2240" width="15.8" height="15.8" fill="#14C414" stroke="#222" stroke-width="1.4"/>
<path d="M1643.2 2272.2L1651.6 2288.6H1635Z" fill="#52A0F5" stroke="#222" stroke-width="1.3"/>
<text class="lg" font-size="23.6" x="1663.8" y="2219.8" textLength="43.5" lengthAdjust="spacingAndGlyphs">CTR</text>
<text class="lg" font-size="23.6" x="1663.5" y="2256.8" textLength="30.5" lengthAdjust="spacingAndGlyphs">PN</text>
<text class="lg" font-size="23.6" x="1664.4" y="2290.5" textLength="28.5" lengthAdjust="spacingAndGlyphs">PP</text>
</g>
</svg></body></html>
